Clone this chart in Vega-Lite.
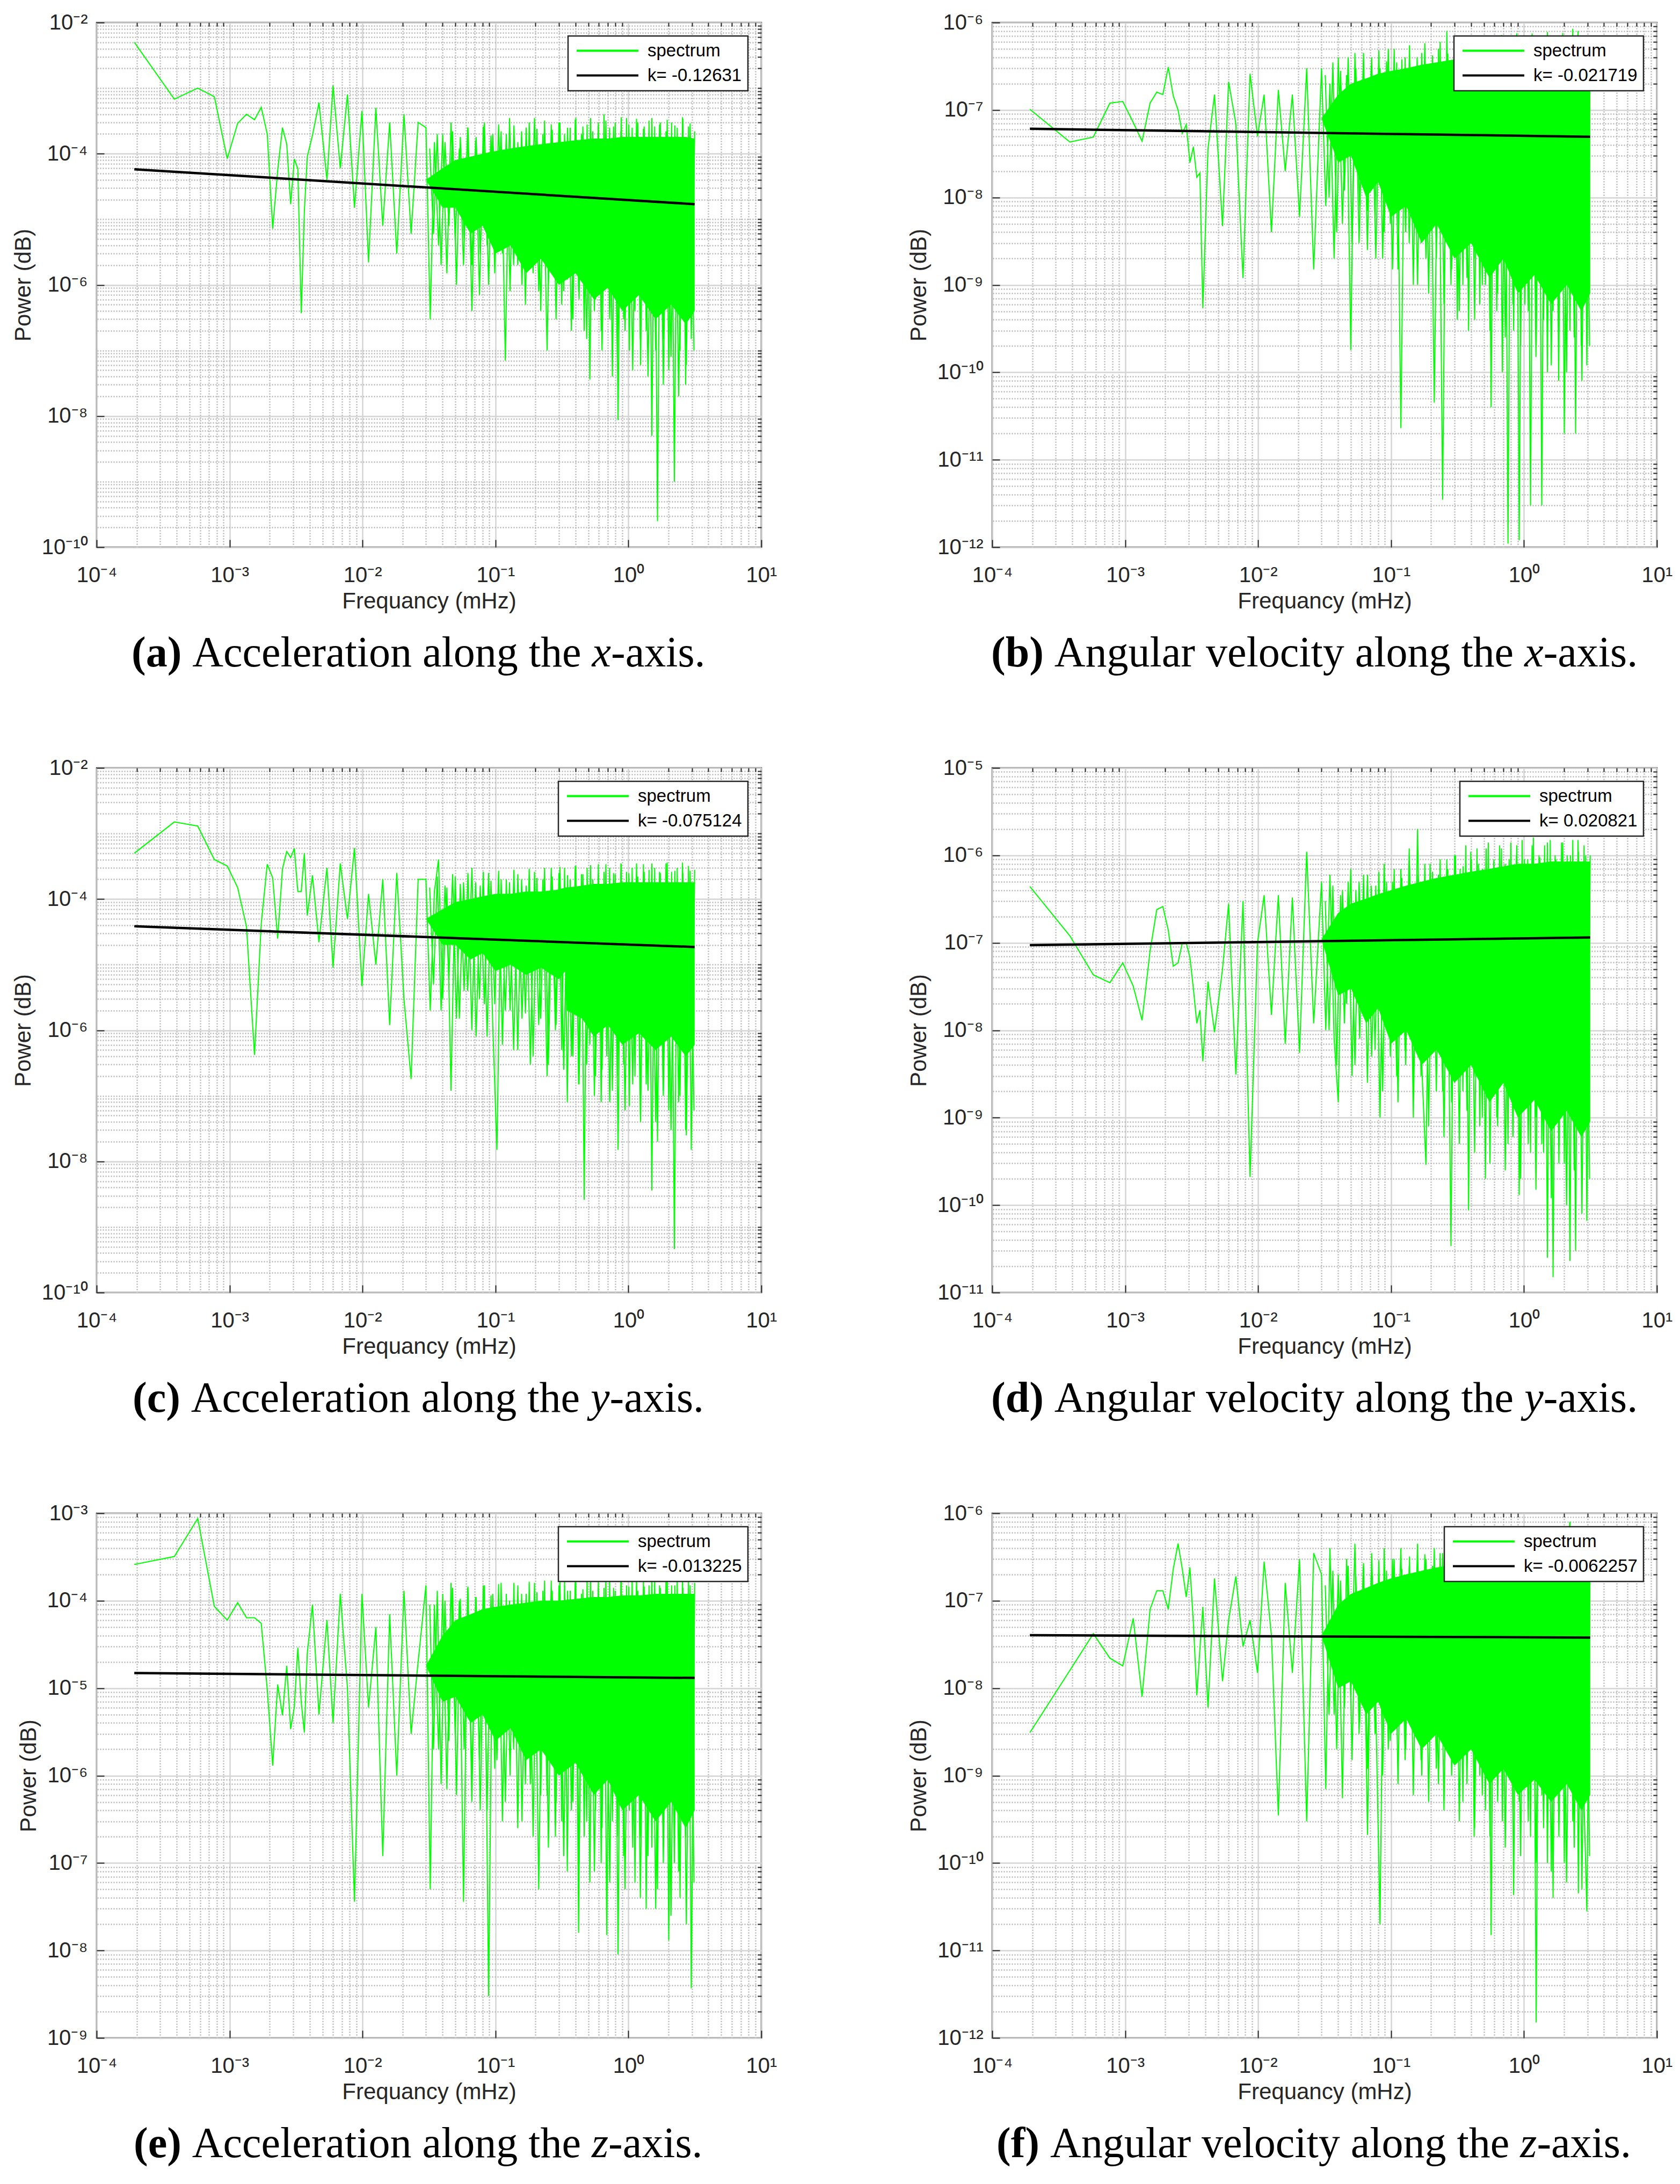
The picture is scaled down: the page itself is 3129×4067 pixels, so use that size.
{
  "$schema": "https://vega.github.io/schema/vega-lite/v6.json",
  "background": "white",
  "padding": {"left": 20, "top": 20, "right": 10, "bottom": 10},
  "config": {
    "view": {"stroke": "#262626", "strokeWidth": 2.5},
    "axis": {
      "domain": false, "gridWidth": 2.5, "tickColor": "#262626", "tickWidth": 2,
      "labelFont": "Liberation Sans", "labelFontSize": 40, "labelColor": "#262626", "labelFlush": false, "labelOverlap": false,
      "titleFont": "Liberation Sans", "titleFontSize": 42, "titleFontWeight": "normal", "titleColor": "#262626"
    },
    "axisX": {"titlePadding": 8},
    "axisY": {"titlePadding": 12},
    "legend": {
      "orient": "top-right", "offset": 25, "padding": 11, "rowPadding": 12, "symbolType": "M-1,0H9", "symbolSize": 529,
      "symbolStrokeWidth": 4, "labelFont": "Liberation Sans", "labelFontSize": 33, "labelColor": "#000000", "labelOffset": 104,
      "labelLimit": 0, "fillColor": "#ffffff", "strokeColor": "#262626", "strokeWidth": 2.5, "cornerRadius": 0
    }
  },
  "datasets": {
    "a": [
      {"f":0.000192,"p":5e-3},{"f":0.000384,"p":6.8e-4},{"f":0.000576,"p":1e-3},{"f":0.000768,"p":7.4e-4},{"f":0.00096,"p":8.4e-5},
      {"f":0.00115,"p":2.9e-4},{"f":0.00134,"p":4e-4},{"f":0.00154,"p":3.3e-4},{"f":0.00173,"p":5.1e-4},{"f":0.00192,"p":2e-4},
      {"f":0.00211,"p":7.2e-6},{"f":0.0023,"p":5.5e-5},{"f":0.0025,"p":2.5e-4},{"f":0.00269,"p":1.4e-4},{"f":0.00288,"p":1.7e-5},
      {"f":0.00307,"p":8.3e-5},{"f":0.00326,"p":5.9e-5},{"f":0.00346,"p":3.7e-7},{"f":0.00365,"p":1.3e-5},{"f":0.00384,"p":9e-5},
      {"f":0.0042,"p":1.9e-4},{"f":0.0047,"p":6e-4},{"f":0.0054,"p":4e-5},{"f":0.006,"p":1.1e-3},{"f":0.0068,"p":6e-5},
      {"f":0.0077,"p":8e-4},{"f":0.0087,"p":1.5e-5},{"f":0.0099,"p":4.5e-4},{"f":0.0111,"p":2.2e-6},{"f":0.0126,"p":5e-4},
      {"f":0.0142,"p":8e-6},{"f":0.016,"p":3e-4},{"f":0.0181,"p":3e-6},{"f":0.0205,"p":4e-4},{"f":0.0232,"p":6e-6},{"f":0.0262,"p":3e-4},
      {"f":0.03,"p":2.5e-4},{"f":0.0323,"p":3e-7},{"f":0.0347,"p":1.5e-4},{"f":0.0373,"p":4e-6},{"f":0.0401,"p":2e-4},{"f":0.0431,"p":1.5e-6},
      {"f":0.0463,"p":3e-4},{"f":0.0498,"p":5e-6},{"f":0.0535,"p":1.2e-4},{"f":0.0575,"p":2e-6},{"f":0.0618,"p":2.5e-4},{"f":0.0665,"p":4e-7},
      {"f":0.0715,"p":1.8e-4},{"f":0.0768,"p":3e-6},{"f":0.0826,"p":3e-4},{"f":0.0888,"p":1e-6},{"f":0.0954,"p":2e-4},{"f":0.1026,"p":4e-6},
      {"f":0.1103,"p":2.2e-4},{"f":0.1186,"p":7e-8},{"f":0.1275,"p":3.5e-4},{"f":0.137,"p":2e-6},{"f":0.1473,"p":1.5e-4},{"f":0.1583,"p":1e-6},
      {"f":0.1702,"p":2.5e-4},{"f":0.183,"p":3e-6},{"f":0.1967,"p":3.5e-4},{"f":0.2115,"p":8e-7},{"f":0.2273,"p":2e-4},{"f":0.2444,"p":1e-7},
      {"f":0.2627,"p":2.8e-4},{"f":0.2824,"p":1.5e-6},
      {"f":0.3,"p":3e-4},{"f":0.315,"p":5e-7},{"f":0.331,"p":2e-4},{"f":0.347,"p":1.2e-6},{"f":0.365,"p":2.5e-4},{"f":0.383,"p":3e-7},
      {"f":0.402,"p":3.5e-4},{"f":0.422,"p":8e-7},{"f":0.443,"p":2e-4},{"f":0.465,"p":2e-7},{"f":0.489,"p":2.8e-4},{"f":0.513,"p":3.6e-8},
      {"f":0.539,"p":2.2e-4},{"f":0.566,"p":6e-7},{"f":0.594,"p":3e-4},{"f":0.624,"p":2e-7},{"f":0.655,"p":4e-4},{"f":0.688,"p":9e-7},
      {"f":0.722,"p":2.5e-4},{"f":0.758,"p":4e-8},{"f":0.796,"p":3e-4},{"f":0.836,"p":8.7e-9},{"f":0.878,"p":2.2e-4},{"f":0.921,"p":3e-7},
      {"f":0.968,"p":3.5e-4},{"f":1.016,"p":1e-7},{"f":1.067,"p":2.5e-4},{"f":1.12,"p":4e-7},{"f":1.176,"p":3e-4},{"f":1.235,"p":6e-8},
      {"f":1.297,"p":2.4e-4},{"f":1.361,"p":2e-7},{"f":1.429,"p":3.2e-4},{"f":1.501,"p":5e-9},{"f":1.576,"p":2.6e-4},{"f":1.655,"p":2.5e-10},
      {"f":1.738,"p":3e-4},{"f":1.824,"p":1.5e-7},{"f":1.916,"p":2.2e-4},{"f":2.011,"p":5e-8},{"f":2.112,"p":3e-4},{"f":2.217,"p":1e-9},
      {"f":2.328,"p":2.5e-4},{"f":2.445,"p":1e-7},{"f":2.567,"p":3.4e-4},{"f":2.695,"p":3e-8},{"f":2.83,"p":2.6e-4},{"f":2.971,"p":1.5e-7},
      {"f":3.15,"p":2.2e-4}
    ],
    "a_z": [
      {"f":0.032,"p":1.2e-4},{"f":0.0342,"p":6e-6},{"f":0.0365,"p":2e-4},{"f":0.039,"p":2e-6},{"f":0.0417,"p":1.5e-4},{"f":0.0446,"p":8e-6},
      {"f":0.0476,"p":2.2e-4},{"f":0.0509,"p":1e-6},{"f":0.0544,"p":1.8e-4},{"f":0.0581,"p":5e-6},{"f":0.0621,"p":2.5e-4},{"f":0.0664,"p":2e-6},
      {"f":0.0709,"p":1.6e-4},{"f":0.0758,"p":7e-7},{"f":0.081,"p":2.6e-4},{"f":0.0865,"p":4e-6},{"f":0.0925,"p":1.9e-4},{"f":0.0988,"p":1.5e-6},
      {"f":0.1056,"p":2.8e-4},{"f":0.1128,"p":3e-6},{"f":0.1206,"p":2e-4},{"f":0.1288,"p":8e-7},{"f":0.1377,"p":2.7e-4},{"f":0.1471,"p":2e-6},
      {"f":0.1572,"p":2.2e-4},{"f":0.168,"p":5e-7},{"f":0.1795,"p":3e-4},{"f":0.1918,"p":1.5e-6},{"f":0.205,"p":2.4e-4},{"f":0.2191,"p":4e-7},
      {"f":0.2341,"p":3.2e-4},{"f":0.2501,"p":1e-6},{"f":0.2673,"p":2.3e-4},{"f":0.2857,"p":3e-7},{"f":0.3053,"p":3e-4},{"f":0.3262,"p":8e-7},
      {"f":0.3486,"p":2.5e-4},{"f":0.3725,"p":2e-7},{"f":0.3981,"p":3.3e-4},{"f":0.4254,"p":6e-7},{"f":0.4546,"p":2.6e-4},{"f":0.4858,"p":1.5e-7},
      {"f":0.5191,"p":3.5e-4},{"f":0.5547,"p":4e-7},{"f":0.5928,"p":2.7e-4},{"f":0.6334,"p":1e-7},{"f":0.6769,"p":3.2e-4},{"f":0.7233,"p":3e-7},
      {"f":0.7729,"p":2.6e-4},{"f":0.826,"p":8e-8},{"f":0.8826,"p":3.6e-4},{"f":0.9432,"p":2e-7},{"f":1.008,"p":2.8e-4},{"f":1.077,"p":5e-8},
      {"f":1.151,"p":3.4e-4},{"f":1.23,"p":1.5e-7},{"f":1.314,"p":2.6e-4},{"f":1.404,"p":4e-8},{"f":1.501,"p":3.5e-4},{"f":1.604,"p":1e-7},
      {"f":1.714,"p":2.8e-4},{"f":1.831,"p":3e-8},{"f":1.957,"p":3.3e-4},{"f":2.091,"p":8e-8},{"f":2.235,"p":2.7e-4},{"f":2.388,"p":2e-8},
      {"f":2.552,"p":3.6e-4},{"f":2.727,"p":6e-8},{"f":2.914,"p":2.9e-4},{"f":3.114,"p":1e-7}
    ],
    "a_band": [
      {"f":0.03,"lo":4e-5,"hi":4e-5},{"f":0.04,"lo":1.5e-5,"hi":6e-5},{"f":0.05,"lo":1.5e-5,"hi":8e-5},
      {"f":0.065,"lo":6e-6,"hi":9e-5},{"f":0.08,"lo":8e-6,"hi":1e-4},{"f":0.1,"lo":3e-6,"hi":1.1e-4},{"f":0.13,"lo":4e-6,"hi":1.2e-4},
      {"f":0.17,"lo":1.5e-6,"hi":1.3e-4},{"f":0.22,"lo":2.5e-6,"hi":1.4e-4},{"f":0.3,"lo":1e-6,"hi":1.5e-4},{"f":0.4,"lo":1.5e-6,"hi":1.6e-4},
      {"f":0.55,"lo":6e-7,"hi":1.7e-4},{"f":0.7,"lo":9e-7,"hi":1.7e-4},{"f":0.9,"lo":4e-7,"hi":1.8e-4},{"f":1.2,"lo":7e-7,"hi":1.8e-4},
      {"f":1.6,"lo":3e-7,"hi":1.8e-4},{"f":2.1,"lo":5e-7,"hi":1.8e-4},{"f":2.7,"lo":2.5e-7,"hi":1.8e-4},{"f":3.15,"lo":4e-7,"hi":1.7e-4}
    ],
    "a_fit": [{"f":0.000192,"p":5.8e-5},{"f":3.15,"p":1.7e-5}],
    "b": [
      {"f":0.000192,"p":1.02e-7},{"f":0.000384,"p":4.3e-8},{"f":0.000576,"p":4.9e-8},{"f":0.000768,"p":1.2e-7},{"f":0.00096,"p":1.25e-7},
      {"f":0.00115,"p":7.2e-8},{"f":0.00134,"p":4.4e-8},{"f":0.00154,"p":1.2e-7},{"f":0.00173,"p":1.6e-7},{"f":0.00192,"p":1.5e-7},
      {"f":0.00211,"p":3.1e-7},{"f":0.0023,"p":1.45e-7},{"f":0.0025,"p":1e-7},{"f":0.00269,"p":5.4e-8},{"f":0.00288,"p":6.8e-8},
      {"f":0.00307,"p":2.5e-8},{"f":0.00326,"p":3.8e-8},{"f":0.00346,"p":1.7e-8},{"f":0.00365,"p":1.9e-8},{"f":0.00384,"p":5.4e-10},
      {"f":0.0042,"p":3.6e-8},{"f":0.0047,"p":1.5e-7},{"f":0.0054,"p":4.7e-9},{"f":0.006,"p":2.1e-7},{"f":0.0068,"p":7e-8},
      {"f":0.0077,"p":1.2e-9},{"f":0.0087,"p":2.6e-7},{"f":0.0099,"p":5e-8},{"f":0.0111,"p":1.5e-7},{"f":0.0126,"p":4e-9},
      {"f":0.0142,"p":1.7e-7},{"f":0.016,"p":2e-8},{"f":0.0181,"p":1.5e-7},{"f":0.0205,"p":6e-9},{"f":0.0232,"p":3e-7},{"f":0.0262,"p":1.5e-9},
      {"f":0.03,"p":3e-7},{"f":0.0323,"p":8e-9},{"f":0.0347,"p":2e-7},{"f":0.0373,"p":2e-9},{"f":0.0401,"p":4e-7},{"f":0.0431,"p":5e-9},
      {"f":0.0463,"p":2.5e-7},{"f":0.0498,"p":1.8e-10},{"f":0.0535,"p":4.5e-7},{"f":0.0575,"p":3e-9},{"f":0.0618,"p":3e-7},{"f":0.0665,"p":7e-9},
      {"f":0.0715,"p":4e-7},{"f":0.0768,"p":2e-9},{"f":0.0826,"p":3e-7},{"f":0.0888,"p":4e-9},{"f":0.0954,"p":5e-7},{"f":0.1026,"p":1.5e-9},
      {"f":0.1103,"p":3.5e-7},{"f":0.1186,"p":2.3e-11},{"f":0.1275,"p":4e-7},{"f":0.137,"p":3e-9},{"f":0.1473,"p":3e-7},{"f":0.1583,"p":1e-9},
      {"f":0.1702,"p":4.5e-7},{"f":0.183,"p":2e-9},{"f":0.1967,"p":3e-7},{"f":0.2115,"p":4.5e-11},{"f":0.2273,"p":5e-7},{"f":0.2444,"p":3.5e-12},
      {"f":0.2627,"p":8e-7},{"f":0.2824,"p":1e-9},
      {"f":0.3,"p":5e-7},{"f":0.315,"p":4e-10},{"f":0.331,"p":6e-7},{"f":0.347,"p":1e-9},{"f":0.365,"p":4e-7},{"f":0.383,"p":3e-10},
      {"f":0.402,"p":7e-7},{"f":0.422,"p":2e-9},{"f":0.443,"p":5e-7},{"f":0.465,"p":6e-10},{"f":0.489,"p":4e-7},{"f":0.513,"p":1e-9},
      {"f":0.539,"p":6e-7},{"f":0.566,"p":4e-11},{"f":0.594,"p":7e-7},{"f":0.624,"p":5e-10},{"f":0.655,"p":4e-7},{"f":0.688,"p":1e-10},
      {"f":0.722,"p":6e-7},{"f":0.758,"p":1.1e-12},{"f":0.796,"p":5e-7},{"f":0.836,"p":3e-10},{"f":0.878,"p":7e-7},{"f":0.921,"p":1.2e-12},
      {"f":0.968,"p":4e-7},{"f":1.016,"p":6e-10},{"f":1.067,"p":6e-7},{"f":1.12,"p":3e-12},{"f":1.176,"p":5e-7},{"f":1.235,"p":2e-10},
      {"f":1.297,"p":7e-7},{"f":1.361,"p":3e-12},{"f":1.429,"p":5e-7},{"f":1.501,"p":1e-10},{"f":1.576,"p":6e-7},{"f":1.655,"p":5e-10},
      {"f":1.738,"p":4e-7},{"f":1.824,"p":8e-11},{"f":1.916,"p":7e-7},{"f":2.011,"p":2e-11},{"f":2.112,"p":5e-7},{"f":2.217,"p":3e-10},
      {"f":2.328,"p":8.5e-7},{"f":2.445,"p":2e-11},{"f":2.567,"p":6e-7},{"f":2.695,"p":2e-10},{"f":2.83,"p":5e-7},{"f":2.971,"p":1.2e-10},
      {"f":3.15,"p":4e-7}
    ],
    "b_z": [
      {"f":0.032,"p":2.5e-7},{"f":0.0342,"p":1e-8},{"f":0.0365,"p":3.5e-7},{"f":0.039,"p":4e-9},{"f":0.0417,"p":2.8e-7},{"f":0.0446,"p":1.2e-8},
      {"f":0.0476,"p":4e-7},{"f":0.0509,"p":3e-9},{"f":0.0544,"p":3e-7},{"f":0.0581,"p":8e-9},{"f":0.0621,"p":4.5e-7},{"f":0.0664,"p":2.5e-9},
      {"f":0.0709,"p":3.2e-7},{"f":0.0758,"p":6e-9},{"f":0.081,"p":4.8e-7},{"f":0.0865,"p":2e-9},{"f":0.0925,"p":3.6e-7},{"f":0.0988,"p":5e-9},
      {"f":0.1056,"p":5e-7},{"f":0.1128,"p":1.5e-9},{"f":0.1206,"p":3.8e-7},{"f":0.1288,"p":4e-9},{"f":0.1377,"p":5.5e-7},{"f":0.1471,"p":1e-9},
      {"f":0.1572,"p":4e-7},{"f":0.168,"p":3e-9},{"f":0.1795,"p":5.8e-7},{"f":0.1918,"p":8e-10},{"f":0.205,"p":4.2e-7},{"f":0.2191,"p":2e-9},
      {"f":0.2341,"p":6e-7},{"f":0.2501,"p":6e-10},{"f":0.2673,"p":4.4e-7},{"f":0.2857,"p":1.5e-9},{"f":0.3053,"p":6.5e-7},{"f":0.3262,"p":5e-10},
      {"f":0.3486,"p":4.6e-7},{"f":0.3725,"p":1.2e-9},{"f":0.3981,"p":6.8e-7},{"f":0.4254,"p":4e-10},{"f":0.4546,"p":4.8e-7},{"f":0.4858,"p":1e-9},
      {"f":0.5191,"p":7e-7},{"f":0.5547,"p":3e-10},{"f":0.5928,"p":5e-7},{"f":0.6334,"p":8e-10},{"f":0.6769,"p":7.2e-7},{"f":0.7233,"p":2.5e-10},
      {"f":0.7729,"p":5e-7},{"f":0.826,"p":6e-10},{"f":0.8826,"p":7.5e-7},{"f":0.9432,"p":2e-10},{"f":1.008,"p":5.2e-7},{"f":1.077,"p":5e-10},
      {"f":1.151,"p":7.5e-7},{"f":1.23,"p":1.5e-10},{"f":1.314,"p":5.4e-7},{"f":1.404,"p":4e-10},{"f":1.501,"p":7.8e-7},{"f":1.604,"p":1.2e-10},
      {"f":1.714,"p":5.5e-7},{"f":1.831,"p":3e-10},{"f":1.957,"p":7.6e-7},{"f":2.091,"p":1e-10},{"f":2.235,"p":5.6e-7},{"f":2.388,"p":2.5e-10},
      {"f":2.552,"p":8e-7},{"f":2.727,"p":8e-11},{"f":2.914,"p":5.5e-7},{"f":3.114,"p":2e-10}
    ],
    "b_band": [
      {"f":0.03,"lo":8e-8,"hi":8e-8},{"f":0.04,"lo":2.5e-8,"hi":1.5e-7},{"f":0.05,"lo":3e-8,"hi":2e-7},
      {"f":0.065,"lo":1e-8,"hi":2.3e-7},{"f":0.08,"lo":1.5e-8,"hi":2.6e-7},{"f":0.1,"lo":6e-9,"hi":2.8e-7},{"f":0.13,"lo":8e-9,"hi":3e-7},
      {"f":0.17,"lo":3e-9,"hi":3.3e-7},{"f":0.22,"lo":5e-9,"hi":3.5e-7},{"f":0.3,"lo":2e-9,"hi":3.8e-7},{"f":0.4,"lo":3e-9,"hi":4e-7},
      {"f":0.55,"lo":1.2e-9,"hi":4.2e-7},{"f":0.7,"lo":2e-9,"hi":4.4e-7},{"f":0.9,"lo":8e-10,"hi":4.5e-7},{"f":1.2,"lo":1.3e-9,"hi":4.5e-7},
      {"f":1.6,"lo":6e-10,"hi":4.5e-7},{"f":2.1,"lo":1e-9,"hi":4.5e-7},{"f":2.7,"lo":5e-10,"hi":4.5e-7},{"f":3.15,"lo":8e-10,"hi":4.5e-7}
    ],
    "b_fit": [{"f":0.000192,"p":6.1e-8},{"f":3.15,"p":4.94e-8}],
    "c": [
      {"f":0.000192,"p":5e-4},{"f":0.000384,"p":1.5e-3},{"f":0.000576,"p":1.3e-3},{"f":0.000768,"p":4e-4},{"f":0.00096,"p":3.2e-4},
      {"f":0.00115,"p":1.5e-4},{"f":0.00134,"p":3.8e-5},{"f":0.00154,"p":4.2e-7},{"f":0.00173,"p":4.2e-5},{"f":0.00192,"p":3.4e-4},
      {"f":0.00211,"p":2.1e-4},{"f":0.0023,"p":2.5e-5},{"f":0.0025,"p":2.9e-4},{"f":0.00269,"p":5.3e-4},{"f":0.00288,"p":4.3e-4},
      {"f":0.00307,"p":5.9e-4},{"f":0.00326,"p":1.3e-4},{"f":0.00346,"p":1.3e-4},{"f":0.00365,"p":5e-4},{"f":0.00384,"p":5.6e-5},
      {"f":0.0042,"p":2.3e-4},{"f":0.0047,"p":2.2e-5},{"f":0.0054,"p":3e-4},{"f":0.006,"p":9e-6},{"f":0.0068,"p":3.5e-4},
      {"f":0.0077,"p":5e-5},{"f":0.0087,"p":6e-4},{"f":0.0099,"p":4.7e-6},{"f":0.0111,"p":1.2e-4},{"f":0.0126,"p":1e-5},
      {"f":0.0142,"p":2e-4},{"f":0.016,"p":1.2e-6},{"f":0.0181,"p":2.5e-4},{"f":0.0205,"p":3e-6},{"f":0.0232,"p":1.8e-7},{"f":0.0262,"p":2e-4},
      {"f":0.03,"p":2e-4},{"f":0.0323,"p":2e-6},{"f":0.0347,"p":1.3e-4},{"f":0.0373,"p":4e-4},{"f":0.0401,"p":3e-6},{"f":0.0431,"p":1.5e-4},
      {"f":0.0463,"p":1.2e-7},{"f":0.0498,"p":2.2e-4},{"f":0.0535,"p":1.5e-6},{"f":0.0575,"p":1.8e-4},{"f":0.0618,"p":4e-6},{"f":0.0665,"p":3e-4},
      {"f":0.0715,"p":8e-7},{"f":0.0768,"p":1.6e-4},{"f":0.0826,"p":2.5e-6},{"f":0.0888,"p":2.5e-4},{"f":0.0954,"p":1.2e-6},{"f":0.1026,"p":1.5e-8},
      {"f":0.1103,"p":2e-4},{"f":0.1186,"p":2e-6},{"f":0.1275,"p":1.8e-4},{"f":0.137,"p":5e-7},{"f":0.1473,"p":2.4e-4},{"f":0.1583,"p":1.5e-6},
      {"f":0.1702,"p":1.6e-4},{"f":0.183,"p":3e-7},{"f":0.1967,"p":2.6e-4},{"f":0.2115,"p":1.2e-6},{"f":0.2273,"p":2e-4},{"f":0.2444,"p":2e-7},
      {"f":0.2627,"p":3e-4},{"f":0.2824,"p":1e-6},
      {"f":0.3,"p":2.5e-4},{"f":0.315,"p":5e-7},{"f":0.331,"p":3e-4},{"f":0.347,"p":8e-8},{"f":0.365,"p":2e-4},{"f":0.383,"p":4e-7},
      {"f":0.402,"p":3.2e-4},{"f":0.422,"p":1.5e-7},{"f":0.443,"p":2.4e-4},{"f":0.465,"p":2.6e-9},{"f":0.489,"p":3e-4},{"f":0.513,"p":6e-7},
      {"f":0.539,"p":2e-4},{"f":0.566,"p":2e-7},{"f":0.594,"p":3.4e-4},{"f":0.624,"p":8e-8},{"f":0.655,"p":2.6e-4},{"f":0.688,"p":4e-7},
      {"f":0.722,"p":3e-4},{"f":0.758,"p":1.2e-7},{"f":0.796,"p":2.4e-4},{"f":0.836,"p":1.5e-8},{"f":0.878,"p":3.5e-4},{"f":0.921,"p":3e-7},
      {"f":0.968,"p":2.6e-4},{"f":1.016,"p":7e-8},{"f":1.067,"p":3e-4},{"f":1.12,"p":2e-7},{"f":1.176,"p":2.2e-4},{"f":1.235,"p":4e-8},
      {"f":1.297,"p":3.4e-4},{"f":1.361,"p":1.5e-7},{"f":1.429,"p":2.8e-4},{"f":1.501,"p":3.6e-9},{"f":1.576,"p":3e-4},{"f":1.655,"p":2e-8},
      {"f":1.738,"p":2.5e-4},{"f":1.824,"p":1.2e-7},{"f":1.916,"p":3.5e-4},{"f":2.011,"p":6e-8},{"f":2.112,"p":2.6e-4},{"f":2.217,"p":4.6e-10},
      {"f":2.328,"p":3e-4},{"f":2.445,"p":1e-7},{"f":2.567,"p":2.5e-4},{"f":2.695,"p":3e-8},{"f":2.83,"p":3.2e-4},{"f":2.971,"p":1.5e-8},
      {"f":3.15,"p":2.8e-4}
    ],
    "c_z": [
      {"f":0.032,"p":1.5e-4},{"f":0.0342,"p":5e-6},{"f":0.0365,"p":2.2e-4},{"f":0.039,"p":2e-6},{"f":0.0417,"p":1.6e-4},{"f":0.0446,"p":6e-6},
      {"f":0.0476,"p":2.4e-4},{"f":0.0509,"p":1.5e-6},{"f":0.0544,"p":1.7e-4},{"f":0.0581,"p":4e-6},{"f":0.0621,"p":2.5e-4},{"f":0.0664,"p":1e-6},
      {"f":0.0709,"p":1.8e-4},{"f":0.0758,"p":3e-6},{"f":0.081,"p":2.6e-4},{"f":0.0865,"p":8e-7},{"f":0.0925,"p":1.9e-4},{"f":0.0988,"p":2.5e-6},
      {"f":0.1056,"p":2.7e-4},{"f":0.1128,"p":6e-7},{"f":0.1206,"p":2e-4},{"f":0.1288,"p":2e-6},{"f":0.1377,"p":2.8e-4},{"f":0.1471,"p":5e-7},
      {"f":0.1572,"p":2e-4},{"f":0.168,"p":1.8e-6},{"f":0.1795,"p":2.9e-4},{"f":0.1918,"p":4e-7},{"f":0.205,"p":2.1e-4},{"f":0.2191,"p":1.5e-6},
      {"f":0.2341,"p":3e-4},{"f":0.2501,"p":3e-7},{"f":0.2673,"p":2.2e-4},{"f":0.2857,"p":1.2e-6},{"f":0.3053,"p":3.1e-4},{"f":0.3262,"p":2.5e-7},
      {"f":0.3486,"p":2.3e-4},{"f":0.3725,"p":4e-7},{"f":0.3981,"p":3.2e-4},{"f":0.4254,"p":1.5e-7},{"f":0.4546,"p":2.4e-4},{"f":0.4858,"p":3e-7},
      {"f":0.5191,"p":3.3e-4},{"f":0.5547,"p":1e-7},{"f":0.5928,"p":2.4e-4},{"f":0.6334,"p":2.5e-7},{"f":0.6769,"p":3.4e-4},{"f":0.7233,"p":8e-8},
      {"f":0.7729,"p":2.5e-4},{"f":0.826,"p":2e-7},{"f":0.8826,"p":3.4e-4},{"f":0.9432,"p":6e-8},{"f":1.008,"p":2.5e-4},{"f":1.077,"p":1.5e-7},
      {"f":1.151,"p":3.5e-4},{"f":1.23,"p":5e-8},{"f":1.314,"p":2.6e-4},{"f":1.404,"p":1.2e-7},{"f":1.501,"p":3.5e-4},{"f":1.604,"p":4e-8},
      {"f":1.714,"p":2.6e-4},{"f":1.831,"p":1e-7},{"f":1.957,"p":3.6e-4},{"f":2.091,"p":3e-8},{"f":2.235,"p":2.7e-4},{"f":2.388,"p":8e-8},
      {"f":2.552,"p":3.6e-4},{"f":2.727,"p":2.5e-8},{"f":2.914,"p":2.7e-4},{"f":3.114,"p":6e-8}
    ],
    "c_band": [
      {"f":0.03,"lo":5e-5,"hi":5e-5},{"f":0.04,"lo":2e-5,"hi":7e-5},{"f":0.05,"lo":2e-5,"hi":9e-5},
      {"f":0.065,"lo":1.2e-5,"hi":1e-4},{"f":0.08,"lo":1.5e-5,"hi":1.1e-4},{"f":0.1,"lo":8e-6,"hi":1.2e-4},{"f":0.13,"lo":1e-5,"hi":1.2e-4},
      {"f":0.17,"lo":7e-6,"hi":1.3e-4},{"f":0.22,"lo":9e-6,"hi":1.3e-4},{"f":0.3,"lo":6e-6,"hi":1.4e-4},{"f":0.335,"lo":8e-6,"hi":1.5e-4},
      {"f":0.345,"lo":2e-6,"hi":1.5e-4},{"f":0.45,"lo":1.5e-6,"hi":1.6e-4},{"f":0.55,"lo":8e-7,"hi":1.7e-4},{"f":0.7,"lo":1.2e-6,"hi":1.7e-4},
      {"f":0.9,"lo":6e-7,"hi":1.8e-4},{"f":1.2,"lo":9e-7,"hi":1.8e-4},{"f":1.6,"lo":5e-7,"hi":1.8e-4},{"f":2.1,"lo":8e-7,"hi":1.8e-4},
      {"f":2.7,"lo":4e-7,"hi":1.8e-4},{"f":3.15,"lo":6e-7,"hi":1.8e-4}
    ],
    "c_fit": [{"f":0.000192,"p":3.85e-5},{"f":3.15,"p":1.86e-5}],
    "d": [
      {"f":0.000192,"p":4.4e-7},{"f":0.000384,"p":1.2e-7},{"f":0.000576,"p":4.3e-8},{"f":0.000768,"p":3.5e-8},{"f":0.00096,"p":5.9e-8},
      {"f":0.00115,"p":3.2e-8},{"f":0.00134,"p":1.3e-8},{"f":0.00154,"p":8.1e-8},{"f":0.00173,"p":2.4e-7},{"f":0.00192,"p":2.6e-7},
      {"f":0.00211,"p":1.4e-7},{"f":0.0023,"p":5.4e-8},{"f":0.0025,"p":5.9e-8},{"f":0.00269,"p":1e-7},{"f":0.00288,"p":1e-7},
      {"f":0.00307,"p":6.8e-8},{"f":0.00326,"p":3e-8},{"f":0.00346,"p":1.2e-8},{"f":0.00365,"p":1.7e-8},{"f":0.00384,"p":4.4e-9},
      {"f":0.0042,"p":3.6e-8},{"f":0.0047,"p":9.5e-9},{"f":0.0054,"p":5e-8},{"f":0.006,"p":2.8e-7},{"f":0.0068,"p":3.1e-9},
      {"f":0.0077,"p":3e-7},{"f":0.0087,"p":2.1e-10},{"f":0.0099,"p":1e-7},{"f":0.0111,"p":3.5e-7},{"f":0.0126,"p":1.5e-8},
      {"f":0.0142,"p":3.5e-7},{"f":0.016,"p":7e-9},{"f":0.0181,"p":3.3e-7},{"f":0.0205,"p":5.5e-9},{"f":0.0232,"p":1.1e-6},{"f":0.0262,"p":1.2e-8},
      {"f":0.03,"p":5e-7},{"f":0.0323,"p":1e-8},{"f":0.0347,"p":6e-7},{"f":0.0373,"p":8e-9},{"f":0.0401,"p":1.5e-9},{"f":0.0431,"p":4e-7},
      {"f":0.0463,"p":2e-8},{"f":0.0498,"p":7e-7},{"f":0.0535,"p":4e-9},{"f":0.0575,"p":5e-7},{"f":0.0618,"p":1.5e-8},{"f":0.0665,"p":6e-7},
      {"f":0.0715,"p":5e-9},{"f":0.0768,"p":4.5e-7},{"f":0.0826,"p":1e-9},{"f":0.0888,"p":8e-7},{"f":0.0954,"p":1.2e-8},{"f":0.1026,"p":5e-7},
      {"f":0.1103,"p":3e-9},{"f":0.1186,"p":7e-7},{"f":0.1275,"p":6e-9},{"f":0.137,"p":1.2e-6},{"f":0.1473,"p":2e-9},{"f":0.1583,"p":2e-6},
      {"f":0.1702,"p":4e-9},{"f":0.183,"p":2.9e-10},{"f":0.1967,"p":8e-7},{"f":0.2115,"p":8e-9},{"f":0.2273,"p":6e-7},{"f":0.2444,"p":2e-9},
      {"f":0.2627,"p":9e-7},{"f":0.2824,"p":3.4e-11},
      {"f":0.3,"p":1e-6},{"f":0.315,"p":5e-9},{"f":0.331,"p":7e-7},{"f":0.347,"p":2e-9},{"f":0.365,"p":1.3e-6},{"f":0.383,"p":8.7e-11},
      {"f":0.402,"p":9e-7},{"f":0.422,"p":3e-9},{"f":0.443,"p":1.2e-6},{"f":0.465,"p":8e-10},{"f":0.489,"p":7e-7},{"f":0.513,"p":2e-10},
      {"f":0.539,"p":1.4e-6},{"f":0.566,"p":4e-9},{"f":0.594,"p":9e-7},{"f":0.624,"p":1e-9},{"f":0.655,"p":1.3e-6},{"f":0.688,"p":6e-9},
      {"f":0.722,"p":8e-7},{"f":0.758,"p":5e-10},{"f":0.796,"p":1.4e-6},{"f":0.836,"p":2e-9},{"f":0.878,"p":1e-6},{"f":0.921,"p":1.3e-10},
      {"f":0.968,"p":1.5e-6},{"f":1.016,"p":3e-9},{"f":1.067,"p":9e-7},{"f":1.12,"p":4e-10},{"f":1.176,"p":1.6e-6},{"f":1.235,"p":1e-9},
      {"f":1.297,"p":1e-6},{"f":1.361,"p":5e-10},{"f":1.429,"p":1.3e-6},{"f":1.501,"p":2.5e-11},{"f":1.576,"p":1.5e-6},{"f":1.655,"p":1.5e-11},
      {"f":1.738,"p":9e-7},{"f":1.824,"p":1e-9},{"f":1.916,"p":1.4e-6},{"f":2.011,"p":3e-10},{"f":2.112,"p":1e-6},{"f":2.217,"p":2.3e-11},
      {"f":2.328,"p":1.5e-6},{"f":2.445,"p":3e-11},{"f":2.567,"p":1.1e-6},{"f":2.695,"p":8e-10},{"f":2.83,"p":1.3e-6},{"f":2.971,"p":6.6e-11},
      {"f":3.15,"p":1e-6}
    ],
    "d_z": [
      {"f":0.032,"p":3e-7},{"f":0.0342,"p":1e-8},{"f":0.0365,"p":4.5e-7},{"f":0.039,"p":4e-9},{"f":0.0417,"p":3.5e-7},{"f":0.0446,"p":1.2e-8},
      {"f":0.0476,"p":5e-7},{"f":0.0509,"p":3e-9},{"f":0.0544,"p":4e-7},{"f":0.0581,"p":8e-9},{"f":0.0621,"p":6e-7},{"f":0.0664,"p":2.5e-9},
      {"f":0.0709,"p":4.5e-7},{"f":0.0758,"p":6e-9},{"f":0.081,"p":6.5e-7},{"f":0.0865,"p":2e-9},{"f":0.0925,"p":5e-7},{"f":0.0988,"p":5e-9},
      {"f":0.1056,"p":7e-7},{"f":0.1128,"p":1.5e-9},{"f":0.1206,"p":5.5e-7},{"f":0.1288,"p":4e-9},{"f":0.1377,"p":7.5e-7},{"f":0.1471,"p":1e-9},
      {"f":0.1572,"p":6e-7},{"f":0.168,"p":3e-9},{"f":0.1795,"p":8e-7},{"f":0.1918,"p":8e-10},{"f":0.205,"p":6.5e-7},{"f":0.2191,"p":2e-9},
      {"f":0.2341,"p":9e-7},{"f":0.2501,"p":6e-10},{"f":0.2673,"p":7e-7},{"f":0.2857,"p":1.5e-9},{"f":0.3053,"p":1e-6},{"f":0.3262,"p":5e-10},
      {"f":0.3486,"p":7.5e-7},{"f":0.3725,"p":1.2e-9},{"f":0.3981,"p":1.1e-6},{"f":0.4254,"p":4e-10},{"f":0.4546,"p":8e-7},{"f":0.4858,"p":1e-9},
      {"f":0.5191,"p":1.2e-6},{"f":0.5547,"p":3e-10},{"f":0.5928,"p":8.5e-7},{"f":0.6334,"p":8e-10},{"f":0.6769,"p":1.2e-6},{"f":0.7233,"p":2.5e-10},
      {"f":0.7729,"p":9e-7},{"f":0.826,"p":6e-10},{"f":0.8826,"p":1.3e-6},{"f":0.9432,"p":2e-10},{"f":1.008,"p":9e-7},{"f":1.077,"p":5e-10},
      {"f":1.151,"p":1.3e-6},{"f":1.23,"p":1.5e-10},{"f":1.314,"p":9.5e-7},{"f":1.404,"p":4e-10},{"f":1.501,"p":1.4e-6},{"f":1.604,"p":1.2e-10},
      {"f":1.714,"p":1e-6},{"f":1.831,"p":3e-10},{"f":1.957,"p":1.4e-6},{"f":2.091,"p":1e-10},{"f":2.235,"p":1e-6},{"f":2.388,"p":2.5e-10},
      {"f":2.552,"p":1.5e-6},{"f":2.727,"p":8e-11},{"f":2.914,"p":1e-6},{"f":3.114,"p":2e-10}
    ],
    "d_band": [
      {"f":0.03,"lo":1.1e-7,"hi":1.1e-7},{"f":0.04,"lo":2.5e-8,"hi":2.2e-7},{"f":0.05,"lo":3e-8,"hi":2.8e-7},
      {"f":0.065,"lo":1.2e-8,"hi":3.2e-7},{"f":0.08,"lo":1.8e-8,"hi":3.6e-7},{"f":0.1,"lo":7e-9,"hi":4e-7},{"f":0.13,"lo":1e-8,"hi":4.5e-7},
      {"f":0.17,"lo":4e-9,"hi":5e-7},{"f":0.22,"lo":6e-9,"hi":5.5e-7},{"f":0.3,"lo":2.5e-9,"hi":6e-7},{"f":0.4,"lo":4e-9,"hi":6.5e-7},
      {"f":0.55,"lo":1.5e-9,"hi":7e-7},{"f":0.7,"lo":2.5e-9,"hi":7.5e-7},{"f":0.9,"lo":1e-9,"hi":8e-7},{"f":1.2,"lo":1.6e-9,"hi":8e-7},
      {"f":1.6,"lo":7e-10,"hi":8.5e-7},{"f":2.1,"lo":1.2e-9,"hi":8.5e-7},{"f":2.7,"lo":6e-10,"hi":8.5e-7},{"f":3.15,"lo":9e-10,"hi":8.5e-7}
    ],
    "d_fit": [{"f":0.000192,"p":9.4e-8},{"f":3.15,"p":1.15e-7}],
    "e": [
      {"f":0.000192,"p":2.6e-4},{"f":0.000384,"p":3.2e-4},{"f":0.000576,"p":8.7e-4},{"f":0.000768,"p":8.6e-5},{"f":0.00096,"p":6e-5},
      {"f":0.00115,"p":9.5e-5},{"f":0.00134,"p":6.4e-5},{"f":0.00154,"p":6.4e-5},{"f":0.00173,"p":5.5e-5},{"f":0.00192,"p":9.7e-6},
      {"f":0.00211,"p":1.3e-6},{"f":0.0023,"p":1.1e-5},{"f":0.0025,"p":4.9e-6},{"f":0.00269,"p":1.8e-5},{"f":0.00288,"p":3.4e-6},
      {"f":0.00307,"p":6.1e-6},{"f":0.00326,"p":2.9e-5},{"f":0.00346,"p":6.9e-6},{"f":0.00365,"p":3.1e-6},{"f":0.00384,"p":2.5e-5},
      {"f":0.0042,"p":9e-5},{"f":0.0047,"p":5e-6},{"f":0.0054,"p":6e-5},{"f":0.006,"p":4e-6},{"f":0.0068,"p":1.2e-4},
      {"f":0.0077,"p":1e-5},{"f":0.0087,"p":3.6e-8},{"f":0.0099,"p":1.2e-4},{"f":0.0111,"p":6e-6},{"f":0.0126,"p":5e-5},
      {"f":0.0142,"p":1.2e-7},{"f":0.016,"p":7e-5},{"f":0.0181,"p":1e-6},{"f":0.0205,"p":1.3e-4},{"f":0.0232,"p":3e-6},{"f":0.0262,"p":2e-5},
      {"f":0.03,"p":1.5e-4},{"f":0.0323,"p":5e-8},{"f":0.0347,"p":9e-5},{"f":0.0373,"p":2e-6},{"f":0.0401,"p":1.2e-4},{"f":0.0431,"p":7e-7},
      {"f":0.0463,"p":1.6e-4},{"f":0.0498,"p":3e-6},{"f":0.0535,"p":1e-4},{"f":0.0575,"p":3.6e-8},{"f":0.0618,"p":1.4e-4},{"f":0.0665,"p":1e-6},
      {"f":0.0715,"p":1.1e-4},{"f":0.0768,"p":4e-7},{"f":0.0826,"p":1.5e-4},{"f":0.0888,"p":3e-9},{"f":0.0954,"p":1.2e-4},{"f":0.1026,"p":1.5e-6},
      {"f":0.1103,"p":1.6e-4},{"f":0.1186,"p":5e-7},{"f":0.1275,"p":1e-4},{"f":0.137,"p":2e-6},{"f":0.1473,"p":1.5e-4},{"f":0.1583,"p":3e-7},
      {"f":0.1702,"p":1.2e-4},{"f":0.183,"p":8e-7},{"f":0.1967,"p":1.6e-4},{"f":0.2115,"p":5e-8},{"f":0.2273,"p":1.3e-4},{"f":0.2444,"p":6e-7},
      {"f":0.2627,"p":1.7e-4},{"f":0.2824,"p":2e-7},
      {"f":0.3,"p":1.5e-4},{"f":0.315,"p":3e-7},{"f":0.331,"p":1.8e-4},{"f":0.347,"p":8e-8},{"f":0.365,"p":1.3e-4},{"f":0.383,"p":5e-7},
      {"f":0.402,"p":1.7e-4},{"f":0.422,"p":1.6e-8},{"f":0.443,"p":1.2e-4},{"f":0.465,"p":2e-7},{"f":0.489,"p":1.9e-4},{"f":0.513,"p":6e-8},
      {"f":0.539,"p":1.3e-4},{"f":0.566,"p":4e-7},{"f":0.594,"p":1.8e-4},{"f":0.624,"p":1e-7},{"f":0.655,"p":1.4e-4},{"f":0.688,"p":1.5e-8},
      {"f":0.722,"p":1.9e-4},{"f":0.758,"p":3e-7},{"f":0.796,"p":1.3e-4},{"f":0.836,"p":9e-9},{"f":0.878,"p":1.8e-4},{"f":0.921,"p":1.2e-7},
      {"f":0.968,"p":1.5e-4},{"f":1.016,"p":4e-7},{"f":1.067,"p":1.9e-4},{"f":1.12,"p":6e-8},{"f":1.176,"p":1.3e-4},{"f":1.235,"p":2e-7},
      {"f":1.297,"p":1.8e-4},{"f":1.361,"p":3e-8},{"f":1.429,"p":1.5e-4},{"f":1.501,"p":1.5e-7},{"f":1.576,"p":1.9e-4},{"f":1.655,"p":5e-8},
      {"f":1.738,"p":1.4e-4},{"f":1.824,"p":2.5e-7},{"f":1.916,"p":1.8e-4},{"f":2.011,"p":1.3e-8},{"f":2.112,"p":1.5e-4},{"f":2.217,"p":1e-7},
      {"f":2.328,"p":1.9e-4},{"f":2.445,"p":4e-8},{"f":2.567,"p":1.4e-4},{"f":2.695,"p":2e-7},{"f":2.83,"p":1.8e-4},{"f":2.971,"p":3.7e-9},
      {"f":3.15,"p":1.6e-4}
    ],
    "e_z": [
      {"f":0.032,"p":9e-5},{"f":0.0342,"p":2e-6},{"f":0.0365,"p":1.3e-4},{"f":0.039,"p":8e-7},{"f":0.0417,"p":1e-4},{"f":0.0446,"p":2.5e-6},
      {"f":0.0476,"p":1.4e-4},{"f":0.0509,"p":6e-7},{"f":0.0544,"p":1.05e-4},{"f":0.0581,"p":2e-6},{"f":0.0621,"p":1.45e-4},{"f":0.0664,"p":5e-7},
      {"f":0.0709,"p":1.1e-4},{"f":0.0758,"p":1.5e-6},{"f":0.081,"p":1.5e-4},{"f":0.0865,"p":4e-7},{"f":0.0925,"p":1.15e-4},{"f":0.0988,"p":1.2e-6},
      {"f":0.1056,"p":1.55e-4},{"f":0.1128,"p":3e-7},{"f":0.1206,"p":1.2e-4},{"f":0.1288,"p":1e-6},{"f":0.1377,"p":1.6e-4},{"f":0.1471,"p":2.5e-7},
      {"f":0.1572,"p":1.2e-4},{"f":0.168,"p":8e-7},{"f":0.1795,"p":1.65e-4},{"f":0.1918,"p":2e-7},{"f":0.205,"p":1.25e-4},{"f":0.2191,"p":6e-7},
      {"f":0.2341,"p":1.7e-4},{"f":0.2501,"p":1.5e-7},{"f":0.2673,"p":1.3e-4},{"f":0.2857,"p":5e-7},{"f":0.3053,"p":1.75e-4},{"f":0.3262,"p":1.2e-7},
      {"f":0.3486,"p":1.3e-4},{"f":0.3725,"p":4e-7},{"f":0.3981,"p":1.8e-4},{"f":0.4254,"p":1e-7},{"f":0.4546,"p":1.35e-4},{"f":0.4858,"p":3e-7},
      {"f":0.5191,"p":1.85e-4},{"f":0.5547,"p":8e-8},{"f":0.5928,"p":1.4e-4},{"f":0.6334,"p":2.5e-7},{"f":0.6769,"p":1.9e-4},{"f":0.7233,"p":6e-8},
      {"f":0.7729,"p":1.4e-4},{"f":0.826,"p":2e-7},{"f":0.8826,"p":1.9e-4},{"f":0.9432,"p":5e-8},{"f":1.008,"p":1.45e-4},{"f":1.077,"p":1.5e-7},
      {"f":1.151,"p":1.95e-4},{"f":1.23,"p":4e-8},{"f":1.314,"p":1.45e-4},{"f":1.404,"p":1.2e-7},{"f":1.501,"p":2e-4},{"f":1.604,"p":3e-8},
      {"f":1.714,"p":1.5e-4},{"f":1.831,"p":1e-7},{"f":1.957,"p":2e-4},{"f":2.091,"p":2.5e-8},{"f":2.235,"p":1.5e-4},{"f":2.388,"p":8e-8},
      {"f":2.552,"p":2e-4},{"f":2.727,"p":2e-8},{"f":2.914,"p":1.5e-4},{"f":3.114,"p":6e-8}
    ],
    "e_band": [
      {"f":0.03,"lo":1.8e-5,"hi":1.8e-5},{"f":0.04,"lo":7e-6,"hi":4e-5},{"f":0.05,"lo":8e-6,"hi":6e-5},
      {"f":0.065,"lo":4e-6,"hi":7e-5},{"f":0.08,"lo":5e-6,"hi":8e-5},{"f":0.1,"lo":2.5e-6,"hi":8.5e-5},{"f":0.13,"lo":3.5e-6,"hi":9e-5},
      {"f":0.17,"lo":1.5e-6,"hi":9.5e-5},{"f":0.22,"lo":2e-6,"hi":1e-4},{"f":0.3,"lo":1e-6,"hi":1e-4},{"f":0.4,"lo":1.4e-6,"hi":1.05e-4},
      {"f":0.55,"lo":6e-7,"hi":1.1e-4},{"f":0.7,"lo":9e-7,"hi":1.1e-4},{"f":0.9,"lo":4e-7,"hi":1.15e-4},{"f":1.2,"lo":6e-7,"hi":1.15e-4},
      {"f":1.6,"lo":3e-7,"hi":1.2e-4},{"f":2.1,"lo":5e-7,"hi":1.2e-4},{"f":2.7,"lo":2.5e-7,"hi":1.2e-4},{"f":3.15,"lo":4e-7,"hi":1.2e-4}
    ],
    "e_fit": [{"f":0.000192,"p":1.49e-5},{"f":3.15,"p":1.31e-5}],
    "f": [
      {"f":0.000192,"p":3.1e-9},{"f":0.000384,"p":1.6e-8},{"f":0.000576,"p":4.2e-8},{"f":0.000768,"p":2.2e-8},{"f":0.00096,"p":1.8e-8},
      {"f":0.00115,"p":6.3e-8},{"f":0.00134,"p":8e-9},{"f":0.00154,"p":8e-8},{"f":0.00173,"p":1.3e-7},{"f":0.00192,"p":1.3e-7},
      {"f":0.00211,"p":8e-8},{"f":0.0023,"p":2.3e-7},{"f":0.0025,"p":4.5e-7},{"f":0.00269,"p":2.3e-7},{"f":0.00288,"p":1.1e-7},
      {"f":0.00307,"p":2.4e-7},{"f":0.00326,"p":5.6e-8},{"f":0.00346,"p":8.3e-9},{"f":0.00365,"p":2.8e-8},{"f":0.00384,"p":8.5e-8},
      {"f":0.0042,"p":6e-9},{"f":0.0047,"p":1.8e-7},{"f":0.0054,"p":1.2e-8},{"f":0.006,"p":6e-8},{"f":0.0068,"p":1.9e-7},
      {"f":0.0077,"p":3e-8},{"f":0.0087,"p":6e-8},{"f":0.0099,"p":1.5e-8},{"f":0.0111,"p":2.8e-7},{"f":0.0126,"p":4e-8},
      {"f":0.0142,"p":3.5e-10},{"f":0.016,"p":1.6e-7},{"f":0.0181,"p":1.5e-8},{"f":0.0205,"p":3e-7},{"f":0.0232,"p":3e-10},{"f":0.0262,"p":3.5e-7},
      {"f":0.03,"p":2e-7},{"f":0.0323,"p":7e-10},{"f":0.0347,"p":4e-7},{"f":0.0373,"p":5e-9},{"f":0.0401,"p":2e-7},{"f":0.0431,"p":5.5e-10},
      {"f":0.0463,"p":3e-7},{"f":0.0498,"p":8e-9},{"f":0.0535,"p":4.5e-7},{"f":0.0575,"p":3e-9},{"f":0.0618,"p":2.5e-7},{"f":0.0665,"p":2.1e-10},
      {"f":0.0715,"p":3.5e-7},{"f":0.0768,"p":6e-9},{"f":0.0826,"p":2e-11},{"f":0.0888,"p":4e-7},{"f":0.0954,"p":2e-9},{"f":0.1026,"p":3e-7},
      {"f":0.1103,"p":1e-8},{"f":0.1186,"p":4e-7},{"f":0.1275,"p":1.5e-9},{"f":0.137,"p":2.5e-7},{"f":0.1473,"p":6e-9},{"f":0.1583,"p":4.5e-7},
      {"f":0.1702,"p":1e-9},{"f":0.183,"p":3e-7},{"f":0.1967,"p":5e-9},{"f":0.2115,"p":4e-7},{"f":0.2273,"p":8e-10},{"f":0.2444,"p":3.5e-7},
      {"f":0.2627,"p":4e-9},{"f":0.2824,"p":2.5e-7},
      {"f":0.3,"p":4e-7},{"f":0.315,"p":2e-9},{"f":0.331,"p":3e-7},{"f":0.347,"p":5e-10},{"f":0.365,"p":4.5e-7},{"f":0.383,"p":3e-9},
      {"f":0.402,"p":3.5e-7},{"f":0.422,"p":2e-10},{"f":0.443,"p":5e-7},{"f":0.465,"p":1e-9},{"f":0.489,"p":3e-7},{"f":0.513,"p":4e-10},
      {"f":0.539,"p":4.5e-7},{"f":0.566,"p":1.5e-11},{"f":0.594,"p":3.5e-7},{"f":0.624,"p":2e-9},{"f":0.655,"p":5e-7},{"f":0.688,"p":3e-10},
      {"f":0.722,"p":3e-7},{"f":0.758,"p":1e-9},{"f":0.796,"p":4.5e-7},{"f":0.836,"p":4.3e-11},{"f":0.878,"p":3.5e-7},{"f":0.921,"p":5e-10},
      {"f":0.968,"p":5e-7},{"f":1.016,"p":1.5e-9},{"f":1.067,"p":3e-7},{"f":1.12,"p":2e-10},{"f":1.176,"p":4.5e-7},{"f":1.235,"p":1.5e-12},
      {"f":1.297,"p":3.5e-7},{"f":1.361,"p":6e-10},{"f":1.429,"p":5e-7},{"f":1.501,"p":1e-10},{"f":1.576,"p":3e-7},{"f":1.655,"p":4e-11},
      {"f":1.738,"p":4.5e-7},{"f":1.824,"p":8e-10},{"f":1.916,"p":3.5e-7},{"f":2.011,"p":1e-10},{"f":2.112,"p":4e-7},{"f":2.217,"p":8e-7},
      {"f":2.328,"p":3e-10},{"f":2.445,"p":5e-7},{"f":2.567,"p":4.5e-11},{"f":2.695,"p":3.5e-7},{"f":2.83,"p":5e-10},{"f":2.971,"p":2.8e-11},
      {"f":3.15,"p":4e-7}
    ],
    "f_z": [
      {"f":0.032,"p":1.5e-7},{"f":0.0342,"p":5e-9},{"f":0.0365,"p":2.2e-7},{"f":0.039,"p":2e-9},{"f":0.0417,"p":1.7e-7},{"f":0.0446,"p":6e-9},
      {"f":0.0476,"p":2.5e-7},{"f":0.0509,"p":1.5e-9},{"f":0.0544,"p":1.9e-7},{"f":0.0581,"p":4e-9},{"f":0.0621,"p":2.7e-7},{"f":0.0664,"p":1.2e-9},
      {"f":0.0709,"p":2e-7},{"f":0.0758,"p":3e-9},{"f":0.081,"p":2.9e-7},{"f":0.0865,"p":1e-9},{"f":0.0925,"p":2.2e-7},{"f":0.0988,"p":2.5e-9},
      {"f":0.1056,"p":3e-7},{"f":0.1128,"p":8e-10},{"f":0.1206,"p":2.3e-7},{"f":0.1288,"p":2e-9},{"f":0.1377,"p":3.2e-7},{"f":0.1471,"p":6e-10},
      {"f":0.1572,"p":2.4e-7},{"f":0.168,"p":1.5e-9},{"f":0.1795,"p":3.4e-7},{"f":0.1918,"p":5e-10},{"f":0.205,"p":2.5e-7},{"f":0.2191,"p":1.2e-9},
      {"f":0.2341,"p":3.5e-7},{"f":0.2501,"p":4e-10},{"f":0.2673,"p":2.6e-7},{"f":0.2857,"p":1e-9},{"f":0.3053,"p":3.6e-7},{"f":0.3262,"p":3e-10},
      {"f":0.3486,"p":2.7e-7},{"f":0.3725,"p":8e-10},{"f":0.3981,"p":3.8e-7},{"f":0.4254,"p":2.5e-10},{"f":0.4546,"p":2.8e-7},{"f":0.4858,"p":6e-10},
      {"f":0.5191,"p":4e-7},{"f":0.5547,"p":2e-10},{"f":0.5928,"p":2.9e-7},{"f":0.6334,"p":5e-10},{"f":0.6769,"p":4.1e-7},{"f":0.7233,"p":1.5e-10},
      {"f":0.7729,"p":3e-7},{"f":0.826,"p":4e-10},{"f":0.8826,"p":4.2e-7},{"f":0.9432,"p":1.2e-10},{"f":1.008,"p":3e-7},{"f":1.077,"p":3e-10},
      {"f":1.151,"p":4.3e-7},{"f":1.23,"p":1e-10},{"f":1.314,"p":3.1e-7},{"f":1.404,"p":2.5e-10},{"f":1.501,"p":4.4e-7},{"f":1.604,"p":8e-11},
      {"f":1.714,"p":3.1e-7},{"f":1.831,"p":2e-10},{"f":1.957,"p":4.5e-7},{"f":2.091,"p":6e-11},{"f":2.235,"p":3.2e-7},{"f":2.388,"p":1.5e-10},
      {"f":2.552,"p":4.5e-7},{"f":2.727,"p":5e-11},{"f":2.914,"p":3.2e-7},{"f":3.114,"p":1.2e-10}
    ],
    "f_band": [
      {"f":0.03,"lo":4e-8,"hi":4e-8},{"f":0.04,"lo":1e-8,"hi":9e-8},{"f":0.05,"lo":1.2e-8,"hi":1.2e-7},
      {"f":0.065,"lo":5e-9,"hi":1.4e-7},{"f":0.08,"lo":7e-9,"hi":1.6e-7},{"f":0.1,"lo":3e-9,"hi":1.8e-7},{"f":0.13,"lo":4.5e-9,"hi":2e-7},
      {"f":0.17,"lo":2e-9,"hi":2.2e-7},{"f":0.22,"lo":3e-9,"hi":2.4e-7},{"f":0.3,"lo":1.3e-9,"hi":2.6e-7},{"f":0.4,"lo":2e-9,"hi":2.8e-7},
      {"f":0.55,"lo":8e-10,"hi":3e-7},{"f":0.7,"lo":1.2e-9,"hi":3.1e-7},{"f":0.9,"lo":6e-10,"hi":3.2e-7},{"f":1.2,"lo":9e-10,"hi":3.3e-7},
      {"f":1.6,"lo":5e-10,"hi":3.3e-7},{"f":2.1,"lo":8e-10,"hi":3.3e-7},{"f":2.7,"lo":4e-10,"hi":3.3e-7},{"f":3.15,"lo":6e-10,"hi":3.3e-7}
    ],
    "f_fit": [{"f":0.000192,"p":4.03e-8},{"f":3.15,"p":3.79e-8}]
  },
  "columns": 2,
  "bounds": "flush",
  "spacing": {"row": 55, "column": 430},
  "resolve": {"scale": {"color": "independent"}},
  "concat": [
    {
      "width": 1238, "height": 977,
      "resolve": {"axis": {"x": "independent", "y": "independent"}},
      "layer": [
        {"data": {"name": "a_band"}, "mark": {"type": "area", "color": "#00ff00", "clip": true},
         "encoding": {"x": {"field": "f", "type": "quantitative", "scale": {"type": "log", "domain": [0.0001, 10], "nice": false}, "axis": null},
                      "y": {"field": "lo", "type": "quantitative", "scale": {"type": "log", "domain": [1e-10, 0.01], "nice": false}, "axis": null},
                      "y2": {"field": "hi"}}},
        {"data": {"name": "a_z"}, "mark": {"type": "line", "color": "#00ff00", "strokeWidth": 2, "clip": true},
         "encoding": {"x": {"field": "f", "type": "quantitative", "scale": {"type": "log", "domain": [0.0001, 10], "nice": false}, "axis": null},
                      "y": {"field": "p", "type": "quantitative", "scale": {"type": "log", "domain": [1e-10, 0.01], "nice": false}, "axis": null}}},
        {"data": {"name": "a"}, "mark": {"type": "line", "strokeWidth": 2, "clip": true},
         "encoding": {
           "x": {"field": "f", "type": "quantitative", "scale": {"type": "log", "domain": [0.0001, 10], "nice": false},
                 "axis": {"orient": "bottom", "title": "Frequancy (mHz)", "grid": true, "gridColor": "#d4d4d4", "tickSize": -14, "labelPadding": 46,
                          "values": [0.0001, 0.001, 0.01, 0.1, 1, 10],
                          "labelExpr": "'10'+['⁻¹²','⁻¹¹','⁻¹⁰','⁻⁹','⁻⁸','⁻⁷','⁻⁶','⁻⁵','⁻⁴','⁻³','⁻²','⁻¹','⁰','¹'][round(log(datum.value)/LN10)+12]"}},
           "y": {"field": "p", "type": "quantitative", "scale": {"type": "log", "domain": [1e-10, 0.01], "nice": false},
                 "axis": {"orient": "left", "title": "Power (dB)", "grid": true, "gridColor": "#d4d4d4", "tickSize": -14, "labelPadding": 31,
                          "values": [1e-10, 1e-8, 1e-6, 1e-4, 0.01],
                          "labelExpr": "'10'+['⁻¹²','⁻¹¹','⁻¹⁰','⁻⁹','⁻⁸','⁻⁷','⁻⁶','⁻⁵','⁻⁴','⁻³','⁻²','⁻¹','⁰','¹'][round(log(datum.value)/LN10)+12]"}},
           "color": {"datum": "spectrum", "type": "nominal", "scale": {"domain": ["spectrum", "k= -0.12631"], "range": ["#00ff00", "#000000"]}, "legend": {"title": null}}}},
        {"data": {"name": "a_fit"}, "mark": {"type": "line", "strokeWidth": 4.5, "clip": true},
         "encoding": {
           "x": {"field": "f", "type": "quantitative", "scale": {"type": "log", "domain": [0.0001, 10], "nice": false},
                 "axis": {"orient": "top", "labels": false, "title": null, "grid": true, "gridColor": "#b4b4b4", "gridDash": [2, 3], "tickSize": -7,
                          "values": [0.0002,0.0003,0.0004,0.0005,0.0006,0.0007,0.0008,0.0009,0.002,0.003,0.004,0.005,0.006,0.007,0.008,0.009,0.02,0.03,0.04,0.05,0.06,0.07,0.08,0.09,0.2,0.3,0.4,0.5,0.6,0.7,0.8,0.9,2,3,4,5,6,7,8,9]}},
           "y": {"field": "p", "type": "quantitative", "scale": {"type": "log", "domain": [1e-10, 0.01], "nice": false},
                 "axis": {"orient": "right", "labels": false, "title": null, "grid": true, "gridColor": "#b4b4b4", "gridDash": [2, 3], "tickSize": -7,
                          "values": [2e-10,3e-10,4e-10,5e-10,6e-10,7e-10,8e-10,9e-10,1e-9,2e-9,3e-9,4e-9,5e-9,6e-9,7e-9,8e-9,9e-9,2e-8,3e-8,4e-8,5e-8,6e-8,7e-8,8e-8,9e-8,1e-7,2e-7,3e-7,4e-7,5e-7,6e-7,7e-7,8e-7,9e-7,2e-6,3e-6,4e-6,5e-6,6e-6,7e-6,8e-6,9e-6,1e-5,2e-5,3e-5,4e-5,5e-5,6e-5,7e-5,8e-5,9e-5,2e-4,3e-4,4e-4,5e-4,6e-4,7e-4,8e-4,9e-4,1e-3,2e-3,3e-3,4e-3,5e-3,6e-3,7e-3,8e-3,9e-3]}},
           "color": {"datum": "k= -0.12631", "type": "nominal"}}}
      ]
    },
    {
      "width": 1238, "height": 977,
      "resolve": {"axis": {"x": "independent", "y": "independent"}},
      "layer": [
        {"data": {"name": "b_band"}, "mark": {"type": "area", "color": "#00ff00", "clip": true},
         "encoding": {"x": {"field": "f", "type": "quantitative", "scale": {"type": "log", "domain": [0.0001, 10], "nice": false}, "axis": null},
                      "y": {"field": "lo", "type": "quantitative", "scale": {"type": "log", "domain": [1e-12, 1e-6], "nice": false}, "axis": null},
                      "y2": {"field": "hi"}}},
        {"data": {"name": "b_z"}, "mark": {"type": "line", "color": "#00ff00", "strokeWidth": 2, "clip": true},
         "encoding": {"x": {"field": "f", "type": "quantitative", "scale": {"type": "log", "domain": [0.0001, 10], "nice": false}, "axis": null},
                      "y": {"field": "p", "type": "quantitative", "scale": {"type": "log", "domain": [1e-12, 1e-6], "nice": false}, "axis": null}}},
        {"data": {"name": "b"}, "mark": {"type": "line", "strokeWidth": 2, "clip": true},
         "encoding": {
           "x": {"field": "f", "type": "quantitative", "scale": {"type": "log", "domain": [0.0001, 10], "nice": false},
                 "axis": {"orient": "bottom", "title": "Frequancy (mHz)", "grid": true, "gridColor": "#d4d4d4", "tickSize": -14, "labelPadding": 46,
                          "values": [0.0001, 0.001, 0.01, 0.1, 1, 10],
                          "labelExpr": "'10'+['⁻¹²','⁻¹¹','⁻¹⁰','⁻⁹','⁻⁸','⁻⁷','⁻⁶','⁻⁵','⁻⁴','⁻³','⁻²','⁻¹','⁰','¹'][round(log(datum.value)/LN10)+12]"}},
           "y": {"field": "p", "type": "quantitative", "scale": {"type": "log", "domain": [1e-12, 1e-6], "nice": false},
                 "axis": {"orient": "left", "title": "Power (dB)", "grid": true, "gridColor": "#d4d4d4", "tickSize": -14, "labelPadding": 31,
                          "values": [1e-12, 1e-11, 1e-10, 1e-9, 1e-8, 1e-7, 1e-6],
                          "labelExpr": "'10'+['⁻¹²','⁻¹¹','⁻¹⁰','⁻⁹','⁻⁸','⁻⁷','⁻⁶','⁻⁵','⁻⁴','⁻³','⁻²','⁻¹','⁰','¹'][round(log(datum.value)/LN10)+12]"}},
           "color": {"datum": "spectrum", "type": "nominal", "scale": {"domain": ["spectrum", "k= -0.021719"], "range": ["#00ff00", "#000000"]}, "legend": {"title": null}}}},
        {"data": {"name": "b_fit"}, "mark": {"type": "line", "strokeWidth": 4.5, "clip": true},
         "encoding": {
           "x": {"field": "f", "type": "quantitative", "scale": {"type": "log", "domain": [0.0001, 10], "nice": false},
                 "axis": {"orient": "top", "labels": false, "title": null, "grid": true, "gridColor": "#b4b4b4", "gridDash": [2, 3], "tickSize": -7,
                          "values": [0.0002,0.0003,0.0004,0.0005,0.0006,0.0007,0.0008,0.0009,0.002,0.003,0.004,0.005,0.006,0.007,0.008,0.009,0.02,0.03,0.04,0.05,0.06,0.07,0.08,0.09,0.2,0.3,0.4,0.5,0.6,0.7,0.8,0.9,2,3,4,5,6,7,8,9]}},
           "y": {"field": "p", "type": "quantitative", "scale": {"type": "log", "domain": [1e-12, 1e-6], "nice": false},
                 "axis": {"orient": "right", "labels": false, "title": null, "grid": true, "gridColor": "#b4b4b4", "gridDash": [2, 3], "tickSize": -7,
                          "values": [2e-12,3e-12,4e-12,5e-12,6e-12,7e-12,8e-12,9e-12,2e-11,3e-11,4e-11,5e-11,6e-11,7e-11,8e-11,9e-11,2e-10,3e-10,4e-10,5e-10,6e-10,7e-10,8e-10,9e-10,2e-9,3e-9,4e-9,5e-9,6e-9,7e-9,8e-9,9e-9,2e-8,3e-8,4e-8,5e-8,6e-8,7e-8,8e-8,9e-8,2e-7,3e-7,4e-7,5e-7,6e-7,7e-7,8e-7,9e-7]}},
           "color": {"datum": "k= -0.021719", "type": "nominal"}}}
      ]
    },
    {
      "width": 1238, "height": 301, "view": {"stroke": null},
      "data": {"values": [{"tag": "(a)", "desc": "Acceleration along the", "ax": "x"}]},
      "layer": [
        {"mark": {"type": "text", "font": "Liberation Serif", "fontSize": 80, "fontWeight": "bold", "align": "left", "baseline": "alphabetic", "color": "#000000", "dx": -554, "dy": 16.5}, "encoding": {"text": {"field": "tag"}}},
        {"mark": {"type": "text", "font": "Liberation Serif", "fontSize": 80, "align": "left", "baseline": "alphabetic", "color": "#000000", "dx": -440.7, "dy": 16.5}, "encoding": {"text": {"field": "desc"}}},
        {"mark": {"type": "text", "font": "Liberation Serif", "fontSize": 80, "fontStyle": "italic", "align": "left", "baseline": "alphabetic", "color": "#000000", "dx": 303.5, "dy": 16.5}, "encoding": {"text": {"field": "ax"}}},
        {"mark": {"type": "text", "font": "Liberation Serif", "fontSize": 80, "align": "left", "baseline": "alphabetic", "color": "#000000", "dx": 339, "dy": 16.5}, "encoding": {"text": {"value": "-axis."}}}
      ]
    },
    {
      "width": 1238, "height": 301, "view": {"stroke": null},
      "data": {"values": [{"tag": "(b)", "desc": "Angular velocity along the", "ax": "x"}]},
      "layer": [
        {"mark": {"type": "text", "font": "Liberation Serif", "fontSize": 80, "fontWeight": "bold", "align": "left", "baseline": "alphabetic", "color": "#000000", "dx": -621, "dy": 16.5}, "encoding": {"text": {"field": "tag"}}},
        {"mark": {"type": "text", "font": "Liberation Serif", "fontSize": 80, "align": "left", "baseline": "alphabetic", "color": "#000000", "dx": -503.2, "dy": 16.5}, "encoding": {"text": {"field": "desc"}}},
        {"mark": {"type": "text", "font": "Liberation Serif", "fontSize": 80, "fontStyle": "italic", "align": "left", "baseline": "alphabetic", "color": "#000000", "dx": 372.2, "dy": 16.5}, "encoding": {"text": {"field": "ax"}}},
        {"mark": {"type": "text", "font": "Liberation Serif", "fontSize": 80, "align": "left", "baseline": "alphabetic", "color": "#000000", "dx": 407.7, "dy": 16.5}, "encoding": {"text": {"value": "-axis."}}}
      ]
    },
    {
      "width": 1238, "height": 977,
      "resolve": {"axis": {"x": "independent", "y": "independent"}},
      "layer": [
        {"data": {"name": "c_band"}, "mark": {"type": "area", "color": "#00ff00", "clip": true},
         "encoding": {"x": {"field": "f", "type": "quantitative", "scale": {"type": "log", "domain": [0.0001, 10], "nice": false}, "axis": null},
                      "y": {"field": "lo", "type": "quantitative", "scale": {"type": "log", "domain": [1e-10, 0.01], "nice": false}, "axis": null},
                      "y2": {"field": "hi"}}},
        {"data": {"name": "c_z"}, "mark": {"type": "line", "color": "#00ff00", "strokeWidth": 2, "clip": true},
         "encoding": {"x": {"field": "f", "type": "quantitative", "scale": {"type": "log", "domain": [0.0001, 10], "nice": false}, "axis": null},
                      "y": {"field": "p", "type": "quantitative", "scale": {"type": "log", "domain": [1e-10, 0.01], "nice": false}, "axis": null}}},
        {"data": {"name": "c"}, "mark": {"type": "line", "strokeWidth": 2, "clip": true},
         "encoding": {
           "x": {"field": "f", "type": "quantitative", "scale": {"type": "log", "domain": [0.0001, 10], "nice": false},
                 "axis": {"orient": "bottom", "title": "Frequancy (mHz)", "grid": true, "gridColor": "#d4d4d4", "tickSize": -14, "labelPadding": 46,
                          "values": [0.0001, 0.001, 0.01, 0.1, 1, 10],
                          "labelExpr": "'10'+['⁻¹²','⁻¹¹','⁻¹⁰','⁻⁹','⁻⁸','⁻⁷','⁻⁶','⁻⁵','⁻⁴','⁻³','⁻²','⁻¹','⁰','¹'][round(log(datum.value)/LN10)+12]"}},
           "y": {"field": "p", "type": "quantitative", "scale": {"type": "log", "domain": [1e-10, 0.01], "nice": false},
                 "axis": {"orient": "left", "title": "Power (dB)", "grid": true, "gridColor": "#d4d4d4", "tickSize": -14, "labelPadding": 31,
                          "values": [1e-10, 1e-8, 1e-6, 1e-4, 0.01],
                          "labelExpr": "'10'+['⁻¹²','⁻¹¹','⁻¹⁰','⁻⁹','⁻⁸','⁻⁷','⁻⁶','⁻⁵','⁻⁴','⁻³','⁻²','⁻¹','⁰','¹'][round(log(datum.value)/LN10)+12]"}},
           "color": {"datum": "spectrum", "type": "nominal", "scale": {"domain": ["spectrum", "k= -0.075124"], "range": ["#00ff00", "#000000"]}, "legend": {"title": null}}}},
        {"data": {"name": "c_fit"}, "mark": {"type": "line", "strokeWidth": 4.5, "clip": true},
         "encoding": {
           "x": {"field": "f", "type": "quantitative", "scale": {"type": "log", "domain": [0.0001, 10], "nice": false},
                 "axis": {"orient": "top", "labels": false, "title": null, "grid": true, "gridColor": "#b4b4b4", "gridDash": [2, 3], "tickSize": -7,
                          "values": [0.0002,0.0003,0.0004,0.0005,0.0006,0.0007,0.0008,0.0009,0.002,0.003,0.004,0.005,0.006,0.007,0.008,0.009,0.02,0.03,0.04,0.05,0.06,0.07,0.08,0.09,0.2,0.3,0.4,0.5,0.6,0.7,0.8,0.9,2,3,4,5,6,7,8,9]}},
           "y": {"field": "p", "type": "quantitative", "scale": {"type": "log", "domain": [1e-10, 0.01], "nice": false},
                 "axis": {"orient": "right", "labels": false, "title": null, "grid": true, "gridColor": "#b4b4b4", "gridDash": [2, 3], "tickSize": -7,
                          "values": [2e-10,3e-10,4e-10,5e-10,6e-10,7e-10,8e-10,9e-10,1e-9,2e-9,3e-9,4e-9,5e-9,6e-9,7e-9,8e-9,9e-9,2e-8,3e-8,4e-8,5e-8,6e-8,7e-8,8e-8,9e-8,1e-7,2e-7,3e-7,4e-7,5e-7,6e-7,7e-7,8e-7,9e-7,2e-6,3e-6,4e-6,5e-6,6e-6,7e-6,8e-6,9e-6,1e-5,2e-5,3e-5,4e-5,5e-5,6e-5,7e-5,8e-5,9e-5,2e-4,3e-4,4e-4,5e-4,6e-4,7e-4,8e-4,9e-4,1e-3,2e-3,3e-3,4e-3,5e-3,6e-3,7e-3,8e-3,9e-3]}},
           "color": {"datum": "k= -0.075124", "type": "nominal"}}}
      ]
    },
    {
      "width": 1238, "height": 977,
      "resolve": {"axis": {"x": "independent", "y": "independent"}},
      "layer": [
        {"data": {"name": "d_band"}, "mark": {"type": "area", "color": "#00ff00", "clip": true},
         "encoding": {"x": {"field": "f", "type": "quantitative", "scale": {"type": "log", "domain": [0.0001, 10], "nice": false}, "axis": null},
                      "y": {"field": "lo", "type": "quantitative", "scale": {"type": "log", "domain": [1e-11, 1e-5], "nice": false}, "axis": null},
                      "y2": {"field": "hi"}}},
        {"data": {"name": "d_z"}, "mark": {"type": "line", "color": "#00ff00", "strokeWidth": 2, "clip": true},
         "encoding": {"x": {"field": "f", "type": "quantitative", "scale": {"type": "log", "domain": [0.0001, 10], "nice": false}, "axis": null},
                      "y": {"field": "p", "type": "quantitative", "scale": {"type": "log", "domain": [1e-11, 1e-5], "nice": false}, "axis": null}}},
        {"data": {"name": "d"}, "mark": {"type": "line", "strokeWidth": 2, "clip": true},
         "encoding": {
           "x": {"field": "f", "type": "quantitative", "scale": {"type": "log", "domain": [0.0001, 10], "nice": false},
                 "axis": {"orient": "bottom", "title": "Frequancy (mHz)", "grid": true, "gridColor": "#d4d4d4", "tickSize": -14, "labelPadding": 46,
                          "values": [0.0001, 0.001, 0.01, 0.1, 1, 10],
                          "labelExpr": "'10'+['⁻¹²','⁻¹¹','⁻¹⁰','⁻⁹','⁻⁸','⁻⁷','⁻⁶','⁻⁵','⁻⁴','⁻³','⁻²','⁻¹','⁰','¹'][round(log(datum.value)/LN10)+12]"}},
           "y": {"field": "p", "type": "quantitative", "scale": {"type": "log", "domain": [1e-11, 1e-5], "nice": false},
                 "axis": {"orient": "left", "title": "Power (dB)", "grid": true, "gridColor": "#d4d4d4", "tickSize": -14, "labelPadding": 31,
                          "values": [1e-11, 1e-10, 1e-9, 1e-8, 1e-7, 1e-6, 1e-5],
                          "labelExpr": "'10'+['⁻¹²','⁻¹¹','⁻¹⁰','⁻⁹','⁻⁸','⁻⁷','⁻⁶','⁻⁵','⁻⁴','⁻³','⁻²','⁻¹','⁰','¹'][round(log(datum.value)/LN10)+12]"}},
           "color": {"datum": "spectrum", "type": "nominal", "scale": {"domain": ["spectrum", "k= 0.020821"], "range": ["#00ff00", "#000000"]}, "legend": {"title": null}}}},
        {"data": {"name": "d_fit"}, "mark": {"type": "line", "strokeWidth": 4.5, "clip": true},
         "encoding": {
           "x": {"field": "f", "type": "quantitative", "scale": {"type": "log", "domain": [0.0001, 10], "nice": false},
                 "axis": {"orient": "top", "labels": false, "title": null, "grid": true, "gridColor": "#b4b4b4", "gridDash": [2, 3], "tickSize": -7,
                          "values": [0.0002,0.0003,0.0004,0.0005,0.0006,0.0007,0.0008,0.0009,0.002,0.003,0.004,0.005,0.006,0.007,0.008,0.009,0.02,0.03,0.04,0.05,0.06,0.07,0.08,0.09,0.2,0.3,0.4,0.5,0.6,0.7,0.8,0.9,2,3,4,5,6,7,8,9]}},
           "y": {"field": "p", "type": "quantitative", "scale": {"type": "log", "domain": [1e-11, 1e-5], "nice": false},
                 "axis": {"orient": "right", "labels": false, "title": null, "grid": true, "gridColor": "#b4b4b4", "gridDash": [2, 3], "tickSize": -7,
                          "values": [2e-11,3e-11,4e-11,5e-11,6e-11,7e-11,8e-11,9e-11,2e-10,3e-10,4e-10,5e-10,6e-10,7e-10,8e-10,9e-10,2e-9,3e-9,4e-9,5e-9,6e-9,7e-9,8e-9,9e-9,2e-8,3e-8,4e-8,5e-8,6e-8,7e-8,8e-8,9e-8,2e-7,3e-7,4e-7,5e-7,6e-7,7e-7,8e-7,9e-7,2e-6,3e-6,4e-6,5e-6,6e-6,7e-6,8e-6,9e-6]}},
           "color": {"datum": "k= 0.020821", "type": "nominal"}}}
      ]
    },
    {
      "width": 1238, "height": 301, "view": {"stroke": null},
      "data": {"values": [{"tag": "(c)", "desc": "Acceleration along the", "ax": "y"}]},
      "layer": [
        {"mark": {"type": "text", "font": "Liberation Serif", "fontSize": 80, "fontWeight": "bold", "align": "left", "baseline": "alphabetic", "color": "#000000", "dx": -552, "dy": 16.5}, "encoding": {"text": {"field": "tag"}}},
        {"mark": {"type": "text", "font": "Liberation Serif", "fontSize": 80, "align": "left", "baseline": "alphabetic", "color": "#000000", "dx": -443.2, "dy": 16.5}, "encoding": {"text": {"field": "desc"}}},
        {"mark": {"type": "text", "font": "Liberation Serif", "fontSize": 80, "fontStyle": "italic", "align": "left", "baseline": "alphabetic", "color": "#000000", "dx": 301, "dy": 16.5}, "encoding": {"text": {"field": "ax"}}},
        {"mark": {"type": "text", "font": "Liberation Serif", "fontSize": 80, "align": "left", "baseline": "alphabetic", "color": "#000000", "dx": 336.5, "dy": 16.5}, "encoding": {"text": {"value": "-axis."}}}
      ]
    },
    {
      "width": 1238, "height": 301, "view": {"stroke": null},
      "data": {"values": [{"tag": "(d)", "desc": "Angular velocity along the", "ax": "y"}]},
      "layer": [
        {"mark": {"type": "text", "font": "Liberation Serif", "fontSize": 80, "fontWeight": "bold", "align": "left", "baseline": "alphabetic", "color": "#000000", "dx": -621, "dy": 16.5}, "encoding": {"text": {"field": "tag"}}},
        {"mark": {"type": "text", "font": "Liberation Serif", "fontSize": 80, "align": "left", "baseline": "alphabetic", "color": "#000000", "dx": -503.2, "dy": 16.5}, "encoding": {"text": {"field": "desc"}}},
        {"mark": {"type": "text", "font": "Liberation Serif", "fontSize": 80, "fontStyle": "italic", "align": "left", "baseline": "alphabetic", "color": "#000000", "dx": 372.2, "dy": 16.5}, "encoding": {"text": {"field": "ax"}}},
        {"mark": {"type": "text", "font": "Liberation Serif", "fontSize": 80, "align": "left", "baseline": "alphabetic", "color": "#000000", "dx": 407.7, "dy": 16.5}, "encoding": {"text": {"value": "-axis."}}}
      ]
    },
    {
      "width": 1238, "height": 977,
      "resolve": {"axis": {"x": "independent", "y": "independent"}},
      "layer": [
        {"data": {"name": "e_band"}, "mark": {"type": "area", "color": "#00ff00", "clip": true},
         "encoding": {"x": {"field": "f", "type": "quantitative", "scale": {"type": "log", "domain": [0.0001, 10], "nice": false}, "axis": null},
                      "y": {"field": "lo", "type": "quantitative", "scale": {"type": "log", "domain": [1e-9, 0.001], "nice": false}, "axis": null},
                      "y2": {"field": "hi"}}},
        {"data": {"name": "e_z"}, "mark": {"type": "line", "color": "#00ff00", "strokeWidth": 2, "clip": true},
         "encoding": {"x": {"field": "f", "type": "quantitative", "scale": {"type": "log", "domain": [0.0001, 10], "nice": false}, "axis": null},
                      "y": {"field": "p", "type": "quantitative", "scale": {"type": "log", "domain": [1e-9, 0.001], "nice": false}, "axis": null}}},
        {"data": {"name": "e"}, "mark": {"type": "line", "strokeWidth": 2, "clip": true},
         "encoding": {
           "x": {"field": "f", "type": "quantitative", "scale": {"type": "log", "domain": [0.0001, 10], "nice": false},
                 "axis": {"orient": "bottom", "title": "Frequancy (mHz)", "grid": true, "gridColor": "#d4d4d4", "tickSize": -14, "labelPadding": 46,
                          "values": [0.0001, 0.001, 0.01, 0.1, 1, 10],
                          "labelExpr": "'10'+['⁻¹²','⁻¹¹','⁻¹⁰','⁻⁹','⁻⁸','⁻⁷','⁻⁶','⁻⁵','⁻⁴','⁻³','⁻²','⁻¹','⁰','¹'][round(log(datum.value)/LN10)+12]"}},
           "y": {"field": "p", "type": "quantitative", "scale": {"type": "log", "domain": [1e-9, 0.001], "nice": false},
                 "axis": {"orient": "left", "title": "Power (dB)", "grid": true, "gridColor": "#d4d4d4", "tickSize": -14, "labelPadding": 31,
                          "values": [1e-9, 1e-8, 1e-7, 1e-6, 1e-5, 1e-4, 0.001],
                          "labelExpr": "'10'+['⁻¹²','⁻¹¹','⁻¹⁰','⁻⁹','⁻⁸','⁻⁷','⁻⁶','⁻⁵','⁻⁴','⁻³','⁻²','⁻¹','⁰','¹'][round(log(datum.value)/LN10)+12]"}},
           "color": {"datum": "spectrum", "type": "nominal", "scale": {"domain": ["spectrum", "k= -0.013225"], "range": ["#00ff00", "#000000"]}, "legend": {"title": null}}}},
        {"data": {"name": "e_fit"}, "mark": {"type": "line", "strokeWidth": 4.5, "clip": true},
         "encoding": {
           "x": {"field": "f", "type": "quantitative", "scale": {"type": "log", "domain": [0.0001, 10], "nice": false},
                 "axis": {"orient": "top", "labels": false, "title": null, "grid": true, "gridColor": "#b4b4b4", "gridDash": [2, 3], "tickSize": -7,
                          "values": [0.0002,0.0003,0.0004,0.0005,0.0006,0.0007,0.0008,0.0009,0.002,0.003,0.004,0.005,0.006,0.007,0.008,0.009,0.02,0.03,0.04,0.05,0.06,0.07,0.08,0.09,0.2,0.3,0.4,0.5,0.6,0.7,0.8,0.9,2,3,4,5,6,7,8,9]}},
           "y": {"field": "p", "type": "quantitative", "scale": {"type": "log", "domain": [1e-9, 0.001], "nice": false},
                 "axis": {"orient": "right", "labels": false, "title": null, "grid": true, "gridColor": "#b4b4b4", "gridDash": [2, 3], "tickSize": -7,
                          "values": [2e-9,3e-9,4e-9,5e-9,6e-9,7e-9,8e-9,9e-9,2e-8,3e-8,4e-8,5e-8,6e-8,7e-8,8e-8,9e-8,2e-7,3e-7,4e-7,5e-7,6e-7,7e-7,8e-7,9e-7,2e-6,3e-6,4e-6,5e-6,6e-6,7e-6,8e-6,9e-6,2e-5,3e-5,4e-5,5e-5,6e-5,7e-5,8e-5,9e-5,2e-4,3e-4,4e-4,5e-4,6e-4,7e-4,8e-4,9e-4]}},
           "color": {"datum": "k= -0.013225", "type": "nominal"}}}
      ]
    },
    {
      "width": 1238, "height": 977,
      "resolve": {"axis": {"x": "independent", "y": "independent"}},
      "layer": [
        {"data": {"name": "f_band"}, "mark": {"type": "area", "color": "#00ff00", "clip": true},
         "encoding": {"x": {"field": "f", "type": "quantitative", "scale": {"type": "log", "domain": [0.0001, 10], "nice": false}, "axis": null},
                      "y": {"field": "lo", "type": "quantitative", "scale": {"type": "log", "domain": [1e-12, 1e-6], "nice": false}, "axis": null},
                      "y2": {"field": "hi"}}},
        {"data": {"name": "f_z"}, "mark": {"type": "line", "color": "#00ff00", "strokeWidth": 2, "clip": true},
         "encoding": {"x": {"field": "f", "type": "quantitative", "scale": {"type": "log", "domain": [0.0001, 10], "nice": false}, "axis": null},
                      "y": {"field": "p", "type": "quantitative", "scale": {"type": "log", "domain": [1e-12, 1e-6], "nice": false}, "axis": null}}},
        {"data": {"name": "f"}, "mark": {"type": "line", "strokeWidth": 2, "clip": true},
         "encoding": {
           "x": {"field": "f", "type": "quantitative", "scale": {"type": "log", "domain": [0.0001, 10], "nice": false},
                 "axis": {"orient": "bottom", "title": "Frequancy (mHz)", "grid": true, "gridColor": "#d4d4d4", "tickSize": -14, "labelPadding": 46,
                          "values": [0.0001, 0.001, 0.01, 0.1, 1, 10],
                          "labelExpr": "'10'+['⁻¹²','⁻¹¹','⁻¹⁰','⁻⁹','⁻⁸','⁻⁷','⁻⁶','⁻⁵','⁻⁴','⁻³','⁻²','⁻¹','⁰','¹'][round(log(datum.value)/LN10)+12]"}},
           "y": {"field": "p", "type": "quantitative", "scale": {"type": "log", "domain": [1e-12, 1e-6], "nice": false},
                 "axis": {"orient": "left", "title": "Power (dB)", "grid": true, "gridColor": "#d4d4d4", "tickSize": -14, "labelPadding": 31,
                          "values": [1e-12, 1e-11, 1e-10, 1e-9, 1e-8, 1e-7, 1e-6],
                          "labelExpr": "'10'+['⁻¹²','⁻¹¹','⁻¹⁰','⁻⁹','⁻⁸','⁻⁷','⁻⁶','⁻⁵','⁻⁴','⁻³','⁻²','⁻¹','⁰','¹'][round(log(datum.value)/LN10)+12]"}},
           "color": {"datum": "spectrum", "type": "nominal", "scale": {"domain": ["spectrum", "k= -0.0062257"], "range": ["#00ff00", "#000000"]}, "legend": {"title": null}}}},
        {"data": {"name": "f_fit"}, "mark": {"type": "line", "strokeWidth": 4.5, "clip": true},
         "encoding": {
           "x": {"field": "f", "type": "quantitative", "scale": {"type": "log", "domain": [0.0001, 10], "nice": false},
                 "axis": {"orient": "top", "labels": false, "title": null, "grid": true, "gridColor": "#b4b4b4", "gridDash": [2, 3], "tickSize": -7,
                          "values": [0.0002,0.0003,0.0004,0.0005,0.0006,0.0007,0.0008,0.0009,0.002,0.003,0.004,0.005,0.006,0.007,0.008,0.009,0.02,0.03,0.04,0.05,0.06,0.07,0.08,0.09,0.2,0.3,0.4,0.5,0.6,0.7,0.8,0.9,2,3,4,5,6,7,8,9]}},
           "y": {"field": "p", "type": "quantitative", "scale": {"type": "log", "domain": [1e-12, 1e-6], "nice": false},
                 "axis": {"orient": "right", "labels": false, "title": null, "grid": true, "gridColor": "#b4b4b4", "gridDash": [2, 3], "tickSize": -7,
                          "values": [2e-12,3e-12,4e-12,5e-12,6e-12,7e-12,8e-12,9e-12,2e-11,3e-11,4e-11,5e-11,6e-11,7e-11,8e-11,9e-11,2e-10,3e-10,4e-10,5e-10,6e-10,7e-10,8e-10,9e-10,2e-9,3e-9,4e-9,5e-9,6e-9,7e-9,8e-9,9e-9,2e-8,3e-8,4e-8,5e-8,6e-8,7e-8,8e-8,9e-8,2e-7,3e-7,4e-7,5e-7,6e-7,7e-7,8e-7,9e-7]}},
           "color": {"datum": "k= -0.0062257", "type": "nominal"}}}
      ]
    },
    {
      "width": 1238, "height": 301, "view": {"stroke": null},
      "data": {"values": [{"tag": "(e)", "desc": "Acceleration along the", "ax": "z"}]},
      "layer": [
        {"mark": {"type": "text", "font": "Liberation Serif", "fontSize": 80, "fontWeight": "bold", "align": "left", "baseline": "alphabetic", "color": "#000000", "dx": -550, "dy": 16.5}, "encoding": {"text": {"field": "tag"}}},
        {"mark": {"type": "text", "font": "Liberation Serif", "fontSize": 80, "align": "left", "baseline": "alphabetic", "color": "#000000", "dx": -441.2, "dy": 16.5}, "encoding": {"text": {"field": "desc"}}},
        {"mark": {"type": "text", "font": "Liberation Serif", "fontSize": 80, "fontStyle": "italic", "align": "left", "baseline": "alphabetic", "color": "#000000", "dx": 303, "dy": 16.5}, "encoding": {"text": {"field": "ax"}}},
        {"mark": {"type": "text", "font": "Liberation Serif", "fontSize": 80, "align": "left", "baseline": "alphabetic", "color": "#000000", "dx": 334.1, "dy": 16.5}, "encoding": {"text": {"value": "-axis."}}}
      ]
    },
    {
      "width": 1238, "height": 301, "view": {"stroke": null},
      "data": {"values": [{"tag": "(f)", "desc": "Angular velocity along the", "ax": "z"}]},
      "layer": [
        {"mark": {"type": "text", "font": "Liberation Serif", "fontSize": 80, "fontWeight": "bold", "align": "left", "baseline": "alphabetic", "color": "#000000", "dx": -611, "dy": 16.5}, "encoding": {"text": {"field": "tag"}}},
        {"mark": {"type": "text", "font": "Liberation Serif", "fontSize": 80, "align": "left", "baseline": "alphabetic", "color": "#000000", "dx": -511.1, "dy": 16.5}, "encoding": {"text": {"field": "desc"}}},
        {"mark": {"type": "text", "font": "Liberation Serif", "fontSize": 80, "fontStyle": "italic", "align": "left", "baseline": "alphabetic", "color": "#000000", "dx": 364.3, "dy": 16.5}, "encoding": {"text": {"field": "ax"}}},
        {"mark": {"type": "text", "font": "Liberation Serif", "fontSize": 80, "align": "left", "baseline": "alphabetic", "color": "#000000", "dx": 395.4, "dy": 16.5}, "encoding": {"text": {"value": "-axis."}}}
      ]
    }
  ]
}
